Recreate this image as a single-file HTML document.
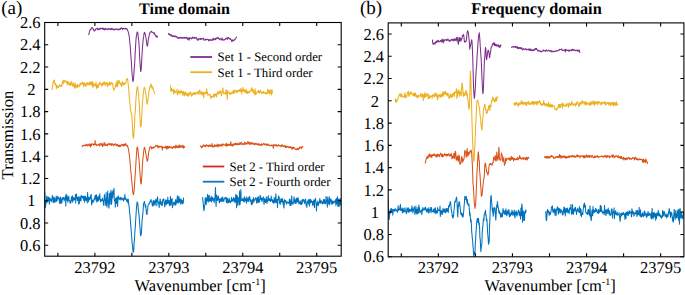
<!DOCTYPE html>
<html><head><meta charset="utf-8"><style>
html,body{margin:0;padding:0;background:#fff;width:685px;height:295px;overflow:hidden}
svg{display:block}
</style></head><body>
<svg width="685" height="295" viewBox="0 0 685 295">
<defs>
<clipPath id="cl"><rect x="44.7" y="22.4" width="296.3" height="233.8"/></clipPath>
<clipPath id="cr"><rect x="388.2" y="22.9" width="295.7" height="233.6"/></clipPath>
</defs>
<style>
text{font-family:"Liberation Serif",serif;fill:#000;text-rendering:geometricPrecision}
.t{font-size:16.5px}
.lg{font-size:12.8px}
.b{font-size:16px;font-weight:bold}
</style>
<rect width="685" height="295" fill="#fff"/>
<path d="M88.6,35.0 L88.9,33.9 L89.3,32.5 L89.6,31.3 L89.9,30.7 L90.2,29.7 L90.6,29.4 L90.9,29.6 L91.2,28.2 L91.6,27.7 L91.9,28.0 L92.2,27.8 L92.6,28.0 L92.9,28.0 L93.2,29.1 L93.5,30.3 L93.9,30.0 L94.2,31.0 L94.5,30.4 L94.9,30.5 L95.2,29.7 L95.5,29.9 L95.9,28.7 L96.2,29.0 L96.5,28.7 L96.8,28.7 L97.2,28.1 L97.5,29.5 L97.8,29.8 L98.2,29.9 L98.5,28.9 L98.8,29.2 L99.2,28.7 L99.5,28.6 L99.8,29.3 L100.1,28.2 L100.5,28.5 L100.8,29.1 L101.1,28.3 L101.5,28.5 L101.8,28.5 L102.1,28.6 L102.5,28.1 L102.8,28.8 L103.1,29.6 L103.4,28.2 L103.8,29.3 L104.1,29.0 L104.4,28.7 L104.8,30.0 L105.1,29.3 L105.4,28.3 L105.8,29.0 L106.1,29.2 L106.4,28.9 L106.7,29.3 L107.1,28.8 L107.4,29.3 L107.7,29.8 L108.1,28.7 L108.4,29.3 L108.7,28.9 L109.1,29.2 L109.4,28.6 L109.7,28.9 L110.0,29.1 L110.4,29.6 L110.7,29.6 L111.0,28.4 L111.4,28.7 L111.7,29.4 L112.0,28.2 L112.4,29.0 L112.7,29.2 L113.0,29.9 L113.3,29.5 L113.7,29.1 L114.0,29.1 L114.3,29.2 L114.7,30.1 L115.0,29.1 L115.3,29.1 L115.7,29.5 L116.0,29.2 L116.3,29.3 L116.6,28.8 L117.0,29.4 L117.3,29.1 L117.6,29.8 L118.0,29.6 L118.3,29.3 L118.6,29.6 L119.0,29.1 L119.3,29.8 L119.6,29.1 L119.9,29.3 L120.3,28.4 L120.6,29.2 L120.9,28.1 L121.3,27.8 L121.6,28.6 L121.9,28.2 L122.3,28.7 L122.6,29.7 L122.9,28.2 L123.2,28.2 L123.6,28.6 L123.9,28.8 L124.2,28.5 L124.6,28.4 L124.9,29.0 L125.2,28.9 L125.6,28.2 L125.9,28.8 L126.2,29.0 L126.5,28.6 L126.9,29.3 L127.2,29.0 L127.5,30.3 L127.9,30.8 L128.2,31.8 L128.5,32.8 L128.9,34.7 L129.2,36.4 L129.5,39.3 L129.8,42.5 L130.2,45.7 L130.5,50.8 L130.8,55.0 L131.2,59.9 L131.5,64.0 L131.8,69.5 L132.2,75.0 L132.5,78.2 L132.8,81.3 L133.1,81.4 L133.5,78.9 L133.8,75.2 L134.1,70.6 L134.5,65.6 L134.8,61.2 L135.1,54.5 L135.5,48.0 L135.8,42.3 L136.1,38.8 L136.4,35.9 L136.8,34.1 L137.1,32.2 L137.4,32.0 L137.8,32.8 L138.1,35.1 L138.4,38.2 L138.8,41.5 L139.1,45.7 L139.4,51.5 L139.7,58.0 L140.1,64.0 L140.4,68.9 L140.7,71.7 L141.1,70.1 L141.4,66.0 L141.7,60.4 L142.1,54.3 L142.4,48.2 L142.7,44.8 L143.0,41.4 L143.4,38.1 L143.7,36.4 L144.0,33.6 L144.4,32.5 L144.7,32.4 L145.0,33.5 L145.4,34.7 L145.7,36.4 L146.0,37.9 L146.3,40.1 L146.7,43.4 L147.0,45.3 L147.3,46.2 L147.7,45.0 L148.0,42.6 L148.3,39.9 L148.7,37.8 L149.0,36.1 L149.3,34.8 L149.6,33.2 L150.0,33.0 L150.3,32.2 L150.6,31.8 L151.0,31.5 L151.3,31.2 L151.6,32.1 L152.0,32.3 L152.3,32.0 L152.6,32.4 L152.9,32.8 L153.3,33.0 L153.6,33.3 L153.9,32.7 L154.3,34.0 L154.6,32.8 L154.9,34.5 L155.3,34.8 L155.6,35.6 L155.9,36.5 L156.2,36.8 L156.6,35.8 L156.9,35.8 L157.2,37.3 L157.6,36.6 L157.9,36.8" stroke="#7E2F8E" stroke-width="1.05" fill="none" stroke-linejoin="round" clip-path="url(#cl)"/>
<path d="M168.3,33.2 L168.6,34.1 L169.0,34.8 L169.3,33.9 L169.6,34.3 L170.0,35.1 L170.3,34.9 L170.6,34.5 L170.9,35.9 L171.3,34.8 L171.6,35.9 L171.9,35.5 L172.3,36.3 L172.6,35.9 L172.9,36.7 L173.3,35.7 L173.6,35.8 L173.9,36.3 L174.2,36.0 L174.6,36.7 L174.9,36.5 L175.2,35.9 L175.6,36.4 L175.9,36.2 L176.2,37.2 L176.6,36.4 L176.9,36.6 L177.2,37.4 L177.5,38.1 L177.9,38.3 L178.2,37.5 L178.5,37.7 L178.9,38.4 L179.2,37.7 L179.5,37.3 L179.9,37.9 L180.2,38.2 L180.5,37.6 L180.8,37.2 L181.2,37.3 L181.5,38.3 L181.8,37.6 L182.2,37.8 L182.5,38.0 L182.8,38.2 L183.2,37.7 L183.5,38.1 L183.8,37.4 L184.1,37.7 L184.5,37.3 L184.8,38.4 L185.1,37.8 L185.5,37.5 L185.8,37.8 L186.1,37.9 L186.5,38.4 L186.8,37.3 L187.1,37.6 L187.4,37.9 L187.8,39.5 L188.1,38.7 L188.4,38.1 L188.8,38.4 L189.1,40.3 L189.4,38.0 L189.8,37.8 L190.1,38.6 L190.4,38.3 L190.7,38.3 L191.1,37.8 L191.4,38.9 L191.7,38.7 L192.1,38.2 L192.4,38.2 L192.7,36.9 L193.1,38.2 L193.4,37.8 L193.7,38.1 L194.0,38.2 L194.4,37.7 L194.7,37.2 L195.0,38.2 L195.4,37.7 L195.7,38.1 L196.0,38.1 L196.4,38.4 L196.7,37.6 L197.0,39.6 L197.3,39.3 L197.7,39.8 L198.0,40.5 L198.3,39.5 L198.7,38.6 L199.0,39.1 L199.3,38.9 L199.7,39.2 L200.0,39.5 L200.3,38.4 L200.6,39.4 L201.0,38.4 L201.3,39.3 L201.6,39.0 L202.0,38.8 L202.3,38.9 L202.6,38.6 L203.0,38.6 L203.3,38.1 L203.6,39.0 L203.9,40.1 L204.3,40.1 L204.6,39.9 L204.9,39.6 L205.3,39.0 L205.6,40.2 L205.9,39.4 L206.3,39.4 L206.6,39.3 L206.9,39.5 L207.2,39.4 L207.6,39.6 L207.9,39.2 L208.2,39.6 L208.6,40.9 L208.9,39.9 L209.2,39.8 L209.6,40.2 L209.9,40.3 L210.2,39.4 L210.5,39.9 L210.9,40.4 L211.2,40.1 L211.5,39.9 L211.9,40.5 L212.2,39.4 L212.5,39.6 L212.9,38.8 L213.2,40.2 L213.5,38.4 L213.8,39.0 L214.2,38.9 L214.5,39.5 L214.8,39.4 L215.2,39.8 L215.5,38.2 L215.8,39.2 L216.2,38.5 L216.5,38.3 L216.8,38.7 L217.1,38.0 L217.5,37.4 L217.8,38.2 L218.1,37.6 L218.5,38.1 L218.8,38.8 L219.1,38.8 L219.5,39.7 L219.8,38.9 L220.1,38.4 L220.4,39.0 L220.8,39.0 L221.1,39.0 L221.4,39.9 L221.8,39.5 L222.1,37.8 L222.4,40.2 L222.8,39.7 L223.1,39.9 L223.4,39.6 L223.7,39.9 L224.1,39.5 L224.4,40.0 L224.7,39.5 L225.1,39.4 L225.4,39.2 L225.7,38.2 L226.1,38.7 L226.4,38.5 L226.7,38.6 L227.0,37.8 L227.4,39.3 L227.7,38.5 L228.0,37.7 L228.4,37.5 L228.7,38.3 L229.0,38.5 L229.4,38.3 L229.7,39.0 L230.0,38.7 L230.3,39.5 L230.7,38.9 L231.0,39.5 L231.3,40.2 L231.7,41.2 L232.0,41.6 L232.3,40.1 L232.7,39.9 L233.0,40.8 L233.3,40.0 L233.6,40.4 L234.0,40.6 L234.3,40.0 L234.6,39.7 L235.0,39.5 L235.3,38.3 L235.6,38.1 L236.0,37.9 L236.3,37.5 L236.6,36.6" stroke="#7E2F8E" stroke-width="1.05" fill="none" stroke-linejoin="round" clip-path="url(#cl)"/>
<path d="M52.1,90.0 L52.4,86.2 L52.8,85.7 L53.1,82.5 L53.4,81.3 L53.7,81.9 L54.1,80.0 L54.4,80.2 L54.7,82.8 L55.1,84.7 L55.4,83.6 L55.7,85.1 L56.1,84.9 L56.4,88.8 L56.7,85.0 L57.0,87.7 L57.4,86.1 L57.7,86.2 L58.0,87.1 L58.4,87.2 L58.7,87.5 L59.0,86.1 L59.4,84.7 L59.7,84.7 L60.0,85.8 L60.3,85.6 L60.7,86.4 L61.0,85.3 L61.3,85.9 L61.7,86.3 L62.0,84.7 L62.3,82.1 L62.7,81.8 L63.0,80.8 L63.3,83.7 L63.6,80.0 L64.0,82.0 L64.3,80.7 L64.6,82.0 L65.0,81.3 L65.3,80.6 L65.6,80.8 L66.0,81.5 L66.3,82.2 L66.6,81.8 L66.9,82.7 L67.3,85.0 L67.6,81.2 L67.9,83.5 L68.3,82.1 L68.6,83.7 L68.9,84.6 L69.3,83.7 L69.6,85.0 L69.9,82.3 L70.2,85.6 L70.6,83.5 L70.9,85.0 L71.2,84.5 L71.6,81.3 L71.9,83.5 L72.2,84.7 L72.6,86.2 L72.9,84.9 L73.2,84.8 L73.5,82.7 L73.9,86.2 L74.2,86.6 L74.5,88.1 L74.9,84.6 L75.2,83.0 L75.5,85.9 L75.9,88.2 L76.2,86.0 L76.5,86.8 L76.8,86.3 L77.2,84.6 L77.5,87.4 L77.8,84.4 L78.2,85.7 L78.5,86.2 L78.8,86.9 L79.2,86.3 L79.5,86.1 L79.8,84.3 L80.1,83.6 L80.5,85.0 L80.8,83.9 L81.1,83.1 L81.5,83.2 L81.8,84.1 L82.1,82.3 L82.5,82.7 L82.8,82.6 L83.1,84.6 L83.4,84.8 L83.8,86.7 L84.1,82.4 L84.4,83.4 L84.8,85.3 L85.1,84.0 L85.4,84.1 L85.8,86.6 L86.1,84.1 L86.4,83.3 L86.7,83.0 L87.1,84.9 L87.4,84.8 L87.7,82.6 L88.1,83.2 L88.4,83.1 L88.7,84.8 L89.1,83.1 L89.4,84.7 L89.7,84.6 L90.0,81.9 L90.4,83.8 L90.7,84.6 L91.0,82.6 L91.4,81.5 L91.7,83.7 L92.0,85.3 L92.4,86.3 L92.7,81.8 L93.0,87.6 L93.3,83.1 L93.7,85.8 L94.0,84.1 L94.3,86.0 L94.7,85.0 L95.0,85.4 L95.3,85.4 L95.7,84.0 L96.0,82.0 L96.3,88.6 L96.6,86.0 L97.0,87.7 L97.3,84.4 L97.6,87.3 L98.0,87.6 L98.3,87.5 L98.6,85.4 L99.0,83.8 L99.3,84.8 L99.6,82.3 L99.9,82.5 L100.3,84.5 L100.6,83.2 L100.9,84.0 L101.3,83.7 L101.6,86.1 L101.9,85.5 L102.3,83.8 L102.6,85.2 L102.9,82.7 L103.2,83.2 L103.6,84.6 L103.9,82.1 L104.2,83.3 L104.6,82.1 L104.9,83.8 L105.2,85.7 L105.6,82.8 L105.9,84.1 L106.2,83.0 L106.5,82.6 L106.9,82.4 L107.2,85.8 L107.5,86.7 L107.9,84.6 L108.2,83.2 L108.5,85.0 L108.9,83.6 L109.2,84.8 L109.5,82.0 L109.8,84.6 L110.2,85.2 L110.5,83.8 L110.8,83.9 L111.2,82.0 L111.5,83.5 L111.8,82.7 L112.2,84.1 L112.5,83.3 L112.8,84.6 L113.1,87.7 L113.5,89.4 L113.8,90.4 L114.1,88.9 L114.5,89.0 L114.8,88.4 L115.1,87.0 L115.5,84.9 L115.8,86.7 L116.1,83.0 L116.4,86.3 L116.8,83.2 L117.1,80.4 L117.4,86.8 L117.8,85.3 L118.1,81.9 L118.4,83.4 L118.8,80.3 L119.1,83.1 L119.4,81.1 L119.7,82.3 L120.1,83.7 L120.4,83.7 L120.7,84.8 L121.1,83.5 L121.4,86.4 L121.7,82.7 L122.1,84.0 L122.4,81.7 L122.7,82.5 L123.0,85.8 L123.4,83.0 L123.7,84.8 L124.0,84.2 L124.4,83.0 L124.7,84.0 L125.0,83.6 L125.4,83.0 L125.7,83.6 L126.0,82.4 L126.3,80.1 L126.7,78.9 L127.0,79.4 L127.3,78.6 L127.7,79.4 L128.0,82.6 L128.3,85.0 L128.7,88.7 L129.0,93.1 L129.3,97.2 L129.6,101.0 L130.0,104.5 L130.3,107.6 L130.6,110.1 L131.0,112.5 L131.3,113.4 L131.6,114.9 L132.0,117.2 L132.3,123.5 L132.6,129.2 L132.9,135.4 L133.3,138.3 L133.6,138.1 L133.9,133.4 L134.3,128.0 L134.6,122.5 L134.9,115.5 L135.3,110.9 L135.6,105.4 L135.9,99.7 L136.2,95.7 L136.6,92.2 L136.9,88.1 L137.2,87.0 L137.6,86.9 L137.9,88.8 L138.2,91.6 L138.6,95.2 L138.9,98.8 L139.2,102.9 L139.5,108.0 L139.9,116.2 L140.2,122.0 L140.5,126.1 L140.9,126.9 L141.2,124.6 L141.5,120.2 L141.9,114.0 L142.2,106.8 L142.5,102.6 L142.8,99.8 L143.2,94.4 L143.5,92.3 L143.8,89.3 L144.2,87.4 L144.5,87.7 L144.8,87.7 L145.2,90.2 L145.5,93.1 L145.8,93.5 L146.1,96.8 L146.5,99.8 L146.8,102.1 L147.1,104.3 L147.5,102.7 L147.8,101.7 L148.1,98.1 L148.5,96.4 L148.8,93.4 L149.1,89.8 L149.4,89.8 L149.8,87.1 L150.1,86.3 L150.4,87.0 L150.8,84.1 L151.1,84.1 L151.4,86.9 L151.8,86.0 L152.1,88.6 L152.4,87.7 L152.7,87.0 L153.1,88.4 L153.4,90.7 L153.7,91.1 L154.1,91.2 L154.4,92.4 L154.7,93.4 L155.1,94.0" stroke="#EDB120" stroke-width="1.05" fill="none" stroke-linejoin="round" clip-path="url(#cl)"/>
<path d="M170.4,85.4 L170.7,88.6 L171.1,91.8 L171.4,88.0 L171.7,91.0 L172.1,90.6 L172.4,89.6 L172.7,90.9 L173.0,90.8 L173.4,90.7 L173.7,94.1 L174.0,89.1 L174.4,92.1 L174.7,92.1 L175.0,91.0 L175.4,91.9 L175.7,92.7 L176.0,91.7 L176.3,92.0 L176.7,92.4 L177.0,89.2 L177.3,93.7 L177.7,94.8 L178.0,93.3 L178.3,93.4 L178.7,90.4 L179.0,92.3 L179.3,91.4 L179.6,91.9 L180.0,94.0 L180.3,91.6 L180.6,92.4 L181.0,90.1 L181.3,92.3 L181.6,92.8 L182.0,91.8 L182.3,91.8 L182.6,95.2 L182.9,91.3 L183.3,91.4 L183.6,92.1 L183.9,94.7 L184.3,95.9 L184.6,93.6 L184.9,92.2 L185.3,92.7 L185.6,94.5 L185.9,92.1 L186.2,95.5 L186.6,95.3 L186.9,93.8 L187.2,94.6 L187.6,94.9 L187.9,96.1 L188.2,92.9 L188.6,96.1 L188.9,94.0 L189.2,93.2 L189.5,94.5 L189.9,94.0 L190.2,92.2 L190.5,91.7 L190.9,92.6 L191.2,95.8 L191.5,96.3 L191.9,94.6 L192.2,95.7 L192.5,93.3 L192.8,94.0 L193.2,94.4 L193.5,92.9 L193.8,93.0 L194.2,94.3 L194.5,93.4 L194.8,92.4 L195.2,94.0 L195.5,93.0 L195.8,94.6 L196.1,93.2 L196.5,92.6 L196.8,92.9 L197.1,92.6 L197.5,91.9 L197.8,92.2 L198.1,93.8 L198.5,93.8 L198.8,94.4 L199.1,90.5 L199.4,92.4 L199.8,89.9 L200.1,93.1 L200.4,92.3 L200.8,92.3 L201.1,94.1 L201.4,93.3 L201.8,91.6 L202.1,95.0 L202.4,94.6 L202.7,92.6 L203.1,94.4 L203.4,92.5 L203.7,97.9 L204.1,92.9 L204.4,92.1 L204.7,92.8 L205.1,92.2 L205.4,93.6 L205.7,93.3 L206.0,93.3 L206.4,92.7 L206.7,88.7 L207.0,93.9 L207.4,92.1 L207.7,93.9 L208.0,95.3 L208.4,94.4 L208.7,94.2 L209.0,94.8 L209.3,95.0 L209.7,94.8 L210.0,94.8 L210.3,94.6 L210.7,98.0 L211.0,96.5 L211.3,97.9 L211.7,96.1 L212.0,96.6 L212.3,96.3 L212.6,96.9 L213.0,97.1 L213.3,96.1 L213.6,94.5 L214.0,94.2 L214.3,97.1 L214.6,94.3 L215.0,93.9 L215.3,95.9 L215.6,95.4 L215.9,94.7 L216.3,93.6 L216.6,97.0 L216.9,94.3 L217.3,94.4 L217.6,93.4 L217.9,91.6 L218.3,91.7 L218.6,94.0 L218.9,93.8 L219.2,92.8 L219.6,91.6 L219.9,91.1 L220.2,92.5 L220.6,90.7 L220.9,93.9 L221.2,94.0 L221.6,95.8 L221.9,93.4 L222.2,91.4 L222.5,91.0 L222.9,87.9 L223.2,91.6 L223.5,92.5 L223.9,93.8 L224.2,93.4 L224.5,93.4 L224.9,92.8 L225.2,93.3 L225.5,94.2 L225.8,90.6 L226.2,91.2 L226.5,89.8 L226.8,93.7 L227.2,99.4 L227.5,93.0 L227.8,90.7 L228.2,92.7 L228.5,92.3 L228.8,92.8 L229.1,92.5 L229.5,93.9 L229.8,93.0 L230.1,94.6 L230.5,93.7 L230.8,92.9 L231.1,92.8 L231.5,92.3 L231.8,93.9 L232.1,92.7 L232.4,93.0 L232.8,92.0 L233.1,90.5 L233.4,93.7 L233.8,90.9 L234.1,93.2 L234.4,92.9 L234.8,89.9 L235.1,90.9 L235.4,91.4 L235.7,91.0 L236.1,90.4 L236.4,92.8 L236.7,91.4 L237.1,92.0 L237.4,90.8 L237.7,91.9 L238.1,90.0 L238.4,91.1 L238.7,91.5 L239.0,90.9 L239.4,90.1 L239.7,89.5 L240.0,91.0 L240.4,91.4 L240.7,90.6 L241.0,88.3 L241.4,91.5 L241.7,93.9 L242.0,89.8 L242.3,91.0 L242.7,91.0 L243.0,87.3 L243.3,90.5 L243.7,89.6 L244.0,92.3 L244.3,90.3 L244.7,90.0 L245.0,90.9 L245.3,91.4 L245.6,90.4 L246.0,93.2 L246.3,89.3 L246.6,90.6 L247.0,91.9 L247.3,93.6 L247.6,91.9 L248.0,91.3 L248.3,92.6 L248.6,92.4 L248.9,93.1 L249.3,92.5 L249.6,90.9 L249.9,91.4 L250.3,91.2 L250.6,91.2 L250.9,91.0 L251.3,89.7 L251.6,87.6 L251.9,90.2 L252.2,88.6 L252.6,91.5 L252.9,91.4 L253.2,89.3 L253.6,92.8 L253.9,93.1 L254.2,92.3 L254.6,91.2 L254.9,95.1 L255.2,88.7 L255.5,94.2 L255.9,93.5 L256.2,93.5 L256.5,93.9 L256.9,91.9 L257.2,91.9 L257.5,91.4 L257.9,91.5 L258.2,92.4 L258.5,90.3 L258.8,90.9 L259.2,93.1 L259.5,92.4 L259.8,92.8 L260.2,90.0 L260.5,91.5 L260.8,91.8 L261.2,92.5 L261.5,91.9 L261.8,93.7 L262.1,92.2 L262.5,92.1 L262.8,92.3 L263.1,93.0 L263.5,91.4 L263.8,93.3 L264.1,92.7 L264.5,92.4 L264.8,92.2 L265.1,93.0 L265.4,93.9 L265.8,93.6 L266.1,92.8 L266.4,93.6 L266.8,92.7 L267.1,93.9 L267.4,91.9 L267.8,89.1 L268.1,93.5 L268.4,91.7 L268.7,90.2 L269.1,91.5 L269.4,90.5 L269.7,94.2 L270.1,92.1 L270.4,89.7 L270.7,92.6 L271.1,91.8 L271.4,94.9 L271.7,91.0 L272.0,89.4 L272.4,93.0 L272.7,93.3" stroke="#EDB120" stroke-width="1.05" fill="none" stroke-linejoin="round" clip-path="url(#cl)"/>
<path d="M81.9,147.3 L82.2,146.8 L82.6,145.8 L82.9,146.2 L83.2,145.3 L83.5,145.5 L83.9,145.3 L84.2,145.1 L84.5,145.6 L84.9,145.9 L85.2,145.3 L85.5,145.6 L85.9,144.9 L86.2,144.1 L86.5,144.4 L86.8,145.6 L87.2,145.3 L87.5,145.9 L87.8,144.7 L88.2,145.1 L88.5,145.4 L88.8,145.2 L89.2,144.0 L89.5,144.3 L89.8,145.9 L90.1,143.7 L90.5,146.9 L90.8,145.3 L91.1,144.2 L91.5,145.7 L91.8,144.0 L92.1,144.1 L92.5,144.0 L92.8,143.7 L93.1,144.5 L93.4,144.2 L93.8,145.4 L94.1,144.7 L94.4,144.8 L94.8,144.4 L95.1,140.6 L95.4,144.5 L95.8,144.0 L96.1,145.2 L96.4,144.4 L96.7,145.7 L97.1,145.2 L97.4,145.2 L97.7,144.8 L98.1,144.6 L98.4,144.9 L98.7,145.1 L99.1,143.8 L99.4,144.7 L99.7,146.2 L100.0,144.1 L100.4,144.0 L100.7,143.7 L101.0,143.4 L101.4,145.1 L101.7,144.3 L102.0,144.8 L102.4,145.8 L102.7,146.7 L103.0,142.9 L103.3,145.3 L103.7,145.0 L104.0,144.9 L104.3,145.0 L104.7,142.5 L105.0,145.7 L105.3,145.1 L105.7,144.8 L106.0,145.4 L106.3,145.1 L106.6,144.9 L107.0,143.9 L107.3,145.9 L107.6,145.0 L108.0,144.4 L108.3,143.8 L108.6,144.3 L109.0,143.8 L109.3,144.8 L109.6,144.8 L109.9,143.2 L110.3,144.6 L110.6,144.9 L110.9,144.3 L111.3,143.9 L111.6,145.5 L111.9,144.1 L112.3,143.7 L112.6,143.9 L112.9,144.6 L113.2,145.4 L113.6,145.7 L113.9,145.0 L114.2,144.1 L114.6,144.4 L114.9,144.3 L115.2,144.8 L115.6,143.8 L115.9,145.1 L116.2,145.6 L116.5,145.2 L116.9,145.6 L117.2,144.6 L117.5,144.3 L117.9,145.1 L118.2,146.4 L118.5,146.3 L118.9,145.3 L119.2,146.4 L119.5,145.3 L119.8,146.6 L120.2,146.0 L120.5,145.4 L120.8,146.2 L121.2,145.0 L121.5,144.8 L121.8,144.3 L122.2,145.4 L122.5,145.1 L122.8,144.9 L123.1,144.5 L123.5,145.9 L123.8,144.4 L124.1,144.1 L124.5,145.5 L124.8,145.6 L125.1,144.9 L125.5,143.5 L125.8,144.4 L126.1,145.2 L126.4,145.1 L126.8,146.1 L127.1,145.1 L127.4,146.4 L127.8,146.3 L128.1,147.9 L128.4,149.0 L128.8,151.4 L129.1,153.3 L129.4,155.6 L129.7,158.7 L130.1,162.4 L130.4,166.1 L130.7,170.4 L131.1,174.0 L131.4,177.0 L131.7,180.3 L132.1,184.3 L132.4,187.8 L132.7,191.4 L133.0,193.4 L133.4,194.7 L133.7,194.1 L134.0,191.1 L134.4,187.2 L134.7,181.9 L135.0,176.9 L135.4,171.8 L135.7,167.1 L136.0,161.8 L136.3,156.8 L136.7,151.2 L137.0,147.9 L137.3,147.0 L137.7,147.9 L138.0,150.2 L138.3,153.5 L138.7,157.1 L139.0,159.5 L139.3,163.6 L139.6,168.3 L140.0,173.3 L140.3,177.9 L140.6,181.6 L141.0,184.0 L141.3,183.1 L141.6,179.4 L142.0,173.8 L142.3,167.6 L142.6,162.2 L142.9,158.8 L143.3,155.3 L143.6,152.1 L143.9,149.5 L144.3,147.6 L144.6,147.4 L144.9,148.3 L145.3,150.3 L145.6,152.1 L145.9,153.8 L146.2,155.9 L146.6,158.1 L146.9,159.3 L147.2,161.3 L147.6,160.7 L147.9,159.5 L148.2,156.6 L148.6,152.8 L148.9,151.4 L149.2,150.4 L149.5,147.7 L149.9,146.9 L150.2,146.9 L150.5,146.5 L150.9,147.1 L151.2,147.6 L151.5,148.9 L151.9,147.1 L152.2,147.6 L152.5,148.1 L152.8,147.6 L153.2,148.2 L153.5,147.5 L153.8,147.1 L154.2,147.3 L154.5,147.6 L154.8,147.1 L155.2,146.5 L155.5,146.2 L155.8,145.2 L156.1,145.9 L156.5,146.2 L156.8,145.8 L157.1,146.2 L157.5,145.5 L157.8,147.3 L158.1,147.8 L158.5,146.1 L158.8,146.5 L159.1,146.1 L159.4,147.3 L159.8,146.7 L160.1,146.7 L160.4,146.5 L160.8,146.9 L161.1,146.1 L161.4,147.3 L161.8,146.4 L162.1,147.3 L162.4,150.0 L162.7,147.6 L163.1,146.9 L163.4,147.7 L163.7,147.4 L164.1,147.7 L164.4,147.1 L164.7,147.5 L165.1,147.4 L165.4,148.0 L165.7,146.0 L166.0,147.7 L166.4,146.5 L166.7,149.3 L167.0,146.2 L167.4,146.8 L167.7,146.4 L168.0,148.8 L168.4,146.8 L168.7,147.7 L169.0,147.2 L169.3,146.2 L169.7,147.1 L170.0,147.7 L170.3,147.2 L170.7,147.8 L171.0,147.0 L171.3,147.1 L171.7,146.9 L172.0,147.4 L172.3,148.5 L172.6,147.4 L173.0,147.4 L173.3,146.6 L173.6,146.5 L174.0,148.0 L174.3,146.2 L174.6,146.4 L175.0,146.8 L175.3,146.6 L175.6,148.2 L175.9,145.1 L176.3,147.3 L176.6,147.4 L176.9,146.0 L177.3,146.5 L177.6,147.0 L177.9,147.8 L178.3,146.0 L178.6,145.5 L178.9,147.3 L179.2,147.6 L179.6,146.3 L179.9,144.9 L180.2,147.2 L180.6,146.1 L180.9,147.1 L181.2,146.2 L181.6,146.1 L181.9,145.9 L182.2,147.3 L182.5,147.4 L182.9,145.1 L183.2,146.1 L183.5,148.1 L183.9,146.7 L184.2,146.2 L184.5,147.2 L184.9,147.4 L185.2,147.4" stroke="#D95319" stroke-width="1.05" fill="none" stroke-linejoin="round" clip-path="url(#cl)"/>
<path d="M200.4,145.5 L200.7,146.7 L201.1,146.6 L201.4,146.7 L201.7,147.9 L202.1,146.5 L202.4,146.2 L202.7,147.1 L203.0,145.1 L203.4,145.1 L203.7,145.6 L204.0,145.2 L204.4,146.1 L204.7,145.3 L205.0,146.8 L205.4,146.5 L205.7,145.9 L206.0,145.0 L206.3,145.8 L206.7,146.0 L207.0,144.8 L207.3,145.7 L207.7,145.9 L208.0,145.6 L208.3,146.7 L208.7,146.5 L209.0,145.1 L209.3,145.7 L209.6,145.1 L210.0,146.0 L210.3,145.0 L210.6,146.4 L211.0,146.0 L211.3,146.4 L211.6,145.7 L212.0,143.5 L212.3,146.9 L212.6,145.5 L212.9,146.6 L213.3,146.0 L213.6,146.1 L213.9,147.0 L214.3,145.9 L214.6,146.6 L214.9,144.6 L215.3,146.2 L215.6,145.6 L215.9,145.6 L216.2,145.6 L216.6,145.7 L216.9,146.6 L217.2,144.0 L217.6,145.3 L217.9,144.7 L218.2,147.0 L218.6,144.7 L218.9,145.3 L219.2,144.7 L219.5,145.4 L219.9,146.3 L220.2,145.1 L220.5,145.4 L220.9,144.3 L221.2,145.5 L221.5,145.8 L221.9,144.9 L222.2,146.2 L222.5,143.9 L222.8,143.9 L223.2,144.1 L223.5,144.6 L223.8,145.1 L224.2,144.9 L224.5,144.9 L224.8,145.3 L225.2,144.5 L225.5,143.9 L225.8,143.9 L226.1,146.3 L226.5,143.3 L226.8,144.7 L227.1,146.0 L227.5,145.2 L227.8,144.3 L228.1,144.9 L228.5,145.3 L228.8,145.5 L229.1,143.9 L229.4,145.1 L229.8,144.8 L230.1,145.1 L230.4,145.4 L230.8,141.8 L231.1,143.5 L231.4,145.0 L231.8,145.9 L232.1,145.0 L232.4,144.6 L232.7,146.1 L233.1,143.8 L233.4,145.1 L233.7,143.9 L234.1,144.3 L234.4,144.1 L234.7,145.0 L235.1,143.5 L235.4,143.9 L235.7,143.1 L236.0,144.6 L236.4,143.9 L236.7,144.5 L237.0,143.3 L237.4,143.9 L237.7,144.9 L238.0,144.1 L238.4,144.5 L238.7,144.4 L239.0,143.6 L239.3,142.8 L239.7,144.6 L240.0,144.2 L240.3,144.5 L240.7,142.5 L241.0,142.7 L241.3,142.2 L241.7,143.1 L242.0,144.6 L242.3,144.2 L242.6,143.8 L243.0,144.0 L243.3,144.6 L243.6,143.7 L244.0,144.1 L244.3,143.8 L244.6,142.1 L245.0,143.4 L245.3,144.6 L245.6,143.3 L245.9,143.4 L246.3,142.9 L246.6,143.1 L246.9,144.2 L247.3,143.4 L247.6,142.9 L247.9,141.4 L248.3,143.3 L248.6,142.3 L248.9,142.5 L249.2,144.3 L249.6,144.2 L249.9,142.3 L250.2,144.2 L250.6,144.0 L250.9,143.1 L251.2,144.0 L251.6,142.5 L251.9,142.8 L252.2,142.8 L252.5,143.1 L252.9,144.5 L253.2,143.0 L253.5,143.2 L253.9,143.4 L254.2,144.4 L254.5,144.1 L254.9,144.9 L255.2,143.7 L255.5,143.4 L255.8,143.8 L256.2,144.2 L256.5,143.6 L256.8,144.4 L257.2,143.8 L257.5,143.8 L257.8,144.2 L258.2,145.3 L258.5,143.8 L258.8,143.8 L259.1,143.7 L259.5,144.8 L259.8,145.0 L260.1,144.5 L260.5,144.8 L260.8,145.6 L261.1,145.2 L261.5,143.7 L261.8,144.7 L262.1,144.7 L262.4,145.2 L262.8,144.3 L263.1,144.0 L263.4,144.0 L263.8,143.2 L264.1,144.5 L264.4,144.1 L264.8,144.9 L265.1,143.9 L265.4,144.3 L265.7,144.1 L266.1,144.0 L266.4,145.4 L266.7,144.5 L267.1,145.3 L267.4,144.3 L267.7,145.2 L268.1,143.9 L268.4,144.8 L268.7,144.8 L269.0,145.7 L269.4,145.4 L269.7,145.1 L270.0,145.8 L270.4,145.4 L270.7,145.6 L271.0,145.9 L271.4,145.2 L271.7,145.0 L272.0,145.6 L272.3,145.1 L272.7,145.6 L273.0,146.1 L273.3,148.5 L273.7,145.0 L274.0,144.3 L274.3,145.3 L274.7,145.2 L275.0,145.9 L275.3,144.9 L275.6,145.1 L276.0,145.6 L276.3,144.7 L276.6,145.0 L277.0,146.3 L277.3,146.3 L277.6,145.8 L278.0,145.5 L278.3,144.6 L278.6,145.7 L278.9,145.5 L279.3,145.8 L279.6,145.2 L279.9,145.7 L280.3,145.5 L280.6,146.0 L280.9,146.8 L281.3,146.3 L281.6,144.9 L281.9,145.3 L282.2,144.9 L282.6,145.5 L282.9,146.4 L283.2,146.5 L283.6,146.0 L283.9,146.8 L284.2,146.1 L284.6,145.5 L284.9,145.7 L285.2,146.0 L285.5,147.6 L285.9,145.8 L286.2,147.5 L286.5,147.5 L286.9,146.5 L287.2,146.6 L287.5,146.3 L287.9,146.6 L288.2,147.2 L288.5,146.8 L288.8,147.6 L289.2,147.9 L289.5,147.3 L289.8,146.6 L290.2,147.2 L290.5,147.5 L290.8,146.7 L291.2,148.0 L291.5,148.0 L291.8,147.3 L292.1,149.4 L292.5,147.4 L292.8,147.7 L293.1,148.5 L293.5,147.1 L293.8,148.0 L294.1,147.5 L294.5,147.9 L294.8,148.6 L295.1,149.0 L295.4,149.6 L295.8,149.4 L296.1,149.7 L296.4,149.3 L296.8,148.7 L297.1,149.7 L297.4,148.6 L297.8,148.4 L298.1,149.8 L298.4,149.1 L298.7,148.5 L299.1,148.2 L299.4,148.8 L299.7,147.0 L300.1,147.8 L300.4,147.1 L300.7,147.8 L301.1,147.2 L301.4,148.6 L301.7,147.8 L302.0,146.9 L302.4,147.3 L302.7,146.4 L303.0,147.3" stroke="#D95319" stroke-width="1.05" fill="none" stroke-linejoin="round" clip-path="url(#cl)"/>
<path d="M44.7,191.8 L45.0,199.5 L45.4,207.8 L45.7,204.5 L46.0,203.0 L46.3,201.5 L46.7,196.1 L47.0,202.7 L47.3,200.3 L47.7,201.5 L48.0,196.8 L48.3,201.0 L48.7,199.6 L49.0,197.4 L49.3,204.3 L49.6,200.0 L50.0,198.1 L50.3,198.9 L50.6,200.4 L51.0,200.9 L51.3,199.1 L51.6,201.2 L52.0,202.0 L52.3,195.3 L52.6,197.9 L52.9,196.7 L53.3,199.2 L53.6,202.6 L53.9,201.1 L54.3,197.4 L54.6,199.5 L54.9,202.5 L55.3,199.1 L55.6,199.9 L55.9,200.9 L56.2,196.0 L56.6,201.4 L56.9,200.1 L57.2,200.7 L57.6,196.3 L57.9,196.9 L58.2,197.1 L58.6,199.0 L58.9,198.9 L59.2,198.6 L59.5,203.3 L59.9,202.4 L60.2,196.9 L60.5,197.4 L60.9,203.6 L61.2,199.0 L61.5,203.0 L61.9,202.7 L62.2,197.9 L62.5,198.6 L62.8,199.2 L63.2,197.2 L63.5,197.6 L63.8,198.5 L64.2,201.0 L64.5,197.9 L64.8,198.9 L65.2,198.3 L65.5,196.0 L65.8,206.0 L66.1,194.0 L66.5,197.1 L66.8,200.0 L67.1,195.6 L67.5,200.3 L67.8,202.2 L68.1,197.3 L68.5,199.7 L68.8,196.4 L69.1,200.7 L69.4,200.3 L69.8,200.6 L70.1,203.4 L70.4,201.3 L70.8,202.8 L71.1,201.0 L71.4,196.9 L71.8,200.5 L72.1,200.6 L72.4,195.7 L72.7,202.2 L73.1,199.1 L73.4,200.2 L73.7,197.4 L74.1,199.8 L74.4,199.9 L74.7,198.1 L75.1,199.4 L75.4,194.5 L75.7,203.0 L76.0,196.9 L76.4,193.9 L76.7,196.9 L77.0,197.2 L77.4,200.6 L77.7,197.4 L78.0,200.0 L78.4,196.8 L78.7,204.1 L79.0,200.2 L79.3,203.6 L79.7,196.7 L80.0,200.6 L80.3,196.8 L80.7,200.1 L81.0,201.0 L81.3,195.3 L81.7,197.1 L82.0,196.7 L82.3,196.3 L82.6,198.1 L83.0,197.0 L83.3,196.3 L83.6,199.7 L84.0,200.5 L84.3,196.0 L84.6,202.2 L85.0,198.7 L85.3,197.9 L85.6,196.4 L85.9,200.3 L86.3,200.5 L86.6,199.8 L86.9,197.5 L87.3,203.0 L87.6,192.5 L87.9,197.6 L88.3,198.6 L88.6,201.8 L88.9,197.2 L89.2,199.8 L89.6,199.4 L89.9,197.9 L90.2,199.0 L90.6,195.3 L90.9,198.1 L91.2,194.6 L91.6,205.0 L91.9,203.3 L92.2,202.5 L92.5,199.9 L92.9,201.4 L93.2,202.1 L93.5,201.8 L93.9,200.8 L94.2,198.2 L94.5,199.4 L94.9,196.9 L95.2,195.5 L95.5,195.3 L95.8,199.1 L96.2,200.7 L96.5,194.7 L96.8,202.1 L97.2,201.6 L97.5,196.9 L97.8,196.9 L98.2,197.8 L98.5,200.9 L98.8,197.6 L99.1,195.5 L99.5,199.3 L99.8,193.8 L100.1,199.1 L100.5,201.6 L100.8,199.4 L101.1,200.8 L101.5,200.3 L101.8,201.1 L102.1,200.2 L102.4,198.0 L102.8,199.7 L103.1,199.9 L103.4,203.6 L103.8,205.5 L104.1,201.8 L104.4,194.6 L104.8,200.1 L105.1,199.8 L105.4,200.4 L105.7,205.4 L106.1,192.6 L106.4,205.3 L106.7,198.0 L107.1,207.1 L107.4,197.6 L107.7,191.0 L108.1,202.6 L108.4,199.9 L108.7,206.0 L109.0,208.3 L109.4,193.3 L109.7,204.3 L110.0,203.2 L110.4,195.4 L110.7,191.9 L111.0,190.3 L111.4,204.4 L111.7,203.2 L112.0,194.3 L112.3,192.1 L112.7,198.0 L113.0,190.4 L113.3,194.5 L113.7,194.8 L114.0,188.3 L114.3,199.7 L114.7,201.3 L115.0,200.1 L115.3,207.3 L115.6,198.3 L116.0,199.4 L116.3,203.7 L116.6,198.7 L117.0,197.1 L117.3,199.3 L117.6,206.4 L118.0,198.9 L118.3,195.8 L118.6,197.8 L118.9,198.8 L119.3,198.7 L119.6,199.4 L119.9,197.7 L120.3,199.9 L120.6,198.4 L120.9,197.2 L121.3,198.0 L121.6,198.7 L121.9,200.0 L122.2,199.6 L122.6,198.4 L122.9,198.8 L123.2,199.1 L123.6,201.1 L123.9,197.8 L124.2,199.1 L124.6,199.3 L124.9,194.3 L125.2,198.7 L125.5,199.2 L125.9,198.3 L126.2,199.8 L126.5,201.0 L126.9,201.4 L127.2,199.5 L127.5,200.1 L127.9,202.9 L128.2,198.9 L128.5,201.7 L128.8,204.7 L129.2,207.1 L129.5,210.8 L129.8,213.6 L130.2,217.4 L130.5,222.1 L130.8,225.9 L131.2,230.9 L131.5,234.8 L131.8,238.4 L132.1,242.5 L132.5,245.4 L132.8,249.7 L133.1,252.2 L133.5,252.0 L133.8,249.1 L134.1,243.0 L134.5,239.6 L134.8,232.7 L135.1,228.9 L135.4,225.5 L135.8,218.0 L136.1,214.1 L136.4,208.9 L136.8,204.7 L137.1,201.9 L137.4,202.5 L137.8,203.3 L138.1,206.9 L138.4,210.3 L138.7,211.9 L139.1,215.6 L139.4,219.8 L139.7,224.2 L140.1,228.9 L140.4,233.7 L140.7,235.9 L141.1,234.7 L141.4,232.6 L141.7,228.6 L142.0,222.0 L142.4,217.2 L142.7,215.2 L143.0,211.5 L143.4,205.9 L143.7,203.1 L144.0,202.7 L144.4,201.4 L144.7,203.1 L145.0,204.6 L145.3,207.3 L145.7,205.1 L146.0,208.8 L146.3,211.6 L146.7,214.5 L147.0,214.4 L147.3,210.4 L147.7,209.3 L148.0,205.6 L148.3,204.7 L148.6,203.7 L149.0,203.8 L149.3,203.9 L149.6,202.3 L150.0,202.3 L150.3,201.2 L150.6,200.6 L151.0,199.5 L151.3,202.0 L151.6,201.5 L151.9,202.3 L152.3,206.0 L152.6,204.8 L152.9,206.0 L153.3,200.2 L153.6,204.9 L153.9,202.0 L154.3,200.9 L154.6,200.9 L154.9,205.5 L155.2,204.1 L155.6,200.1 L155.9,199.3 L156.2,201.9 L156.6,200.8 L156.9,205.9 L157.2,198.4 L157.6,196.8 L157.9,200.8 L158.2,201.9 L158.5,202.5 L158.9,204.4 L159.2,207.7 L159.5,202.0 L159.9,201.5 L160.2,198.9 L160.5,203.4 L160.9,204.7 L161.2,201.9 L161.5,205.3 L161.8,202.3 L162.2,205.7 L162.5,202.6 L162.8,199.5 L163.2,200.4 L163.5,198.9 L163.8,198.9 L164.2,203.2 L164.5,204.5 L164.8,206.9 L165.1,202.1 L165.5,201.7 L165.8,199.7 L166.1,204.9 L166.5,203.3 L166.8,200.2 L167.1,203.4 L167.5,202.8 L167.8,197.2 L168.1,203.4 L168.4,202.1 L168.8,200.7 L169.1,200.5 L169.4,205.4 L169.8,204.7 L170.1,205.8 L170.4,196.4 L170.8,200.2 L171.1,204.6 L171.4,199.5 L171.7,200.9 L172.1,198.5 L172.4,207.7 L172.7,206.3 L173.1,204.5 L173.4,203.9 L173.7,202.3 L174.1,202.2 L174.4,204.2 L174.7,203.0 L175.0,205.4 L175.4,201.0 L175.7,199.5 L176.0,204.8 L176.4,201.3 L176.7,202.8 L177.0,200.1 L177.4,195.8 L177.7,202.5 L178.0,197.6 L178.3,203.3 L178.7,197.3 L179.0,196.4 L179.3,201.8 L179.7,202.1 L180.0,200.4 L180.3,199.2 L180.7,204.1 L181.0,198.7 L181.3,201.2 L181.6,200.4 L182.0,203.0 L182.3,204.0 L182.6,200.5 L183.0,202.9 L183.3,203.1 L183.6,197.6" stroke="#0072BD" stroke-width="1.05" fill="none" stroke-linejoin="round" clip-path="url(#cl)"/>
<path d="M202.6,197.1 L202.9,201.2 L203.3,203.4 L203.6,208.5 L203.9,210.8 L204.3,208.3 L204.6,205.3 L204.9,205.0 L205.2,197.7 L205.6,198.5 L205.9,202.6 L206.2,204.7 L206.6,200.2 L206.9,197.3 L207.2,200.9 L207.6,194.2 L207.9,197.4 L208.2,202.2 L208.5,200.4 L208.9,195.6 L209.2,195.3 L209.5,201.3 L209.9,199.6 L210.2,198.4 L210.5,200.9 L210.9,199.0 L211.2,196.0 L211.5,201.9 L211.8,198.9 L212.2,198.2 L212.5,197.2 L212.8,200.4 L213.2,198.2 L213.5,201.0 L213.8,199.1 L214.2,202.4 L214.5,199.1 L214.8,198.5 L215.1,195.3 L215.5,187.5 L215.8,201.1 L216.1,206.4 L216.5,196.8 L216.8,194.9 L217.1,199.8 L217.5,200.4 L217.8,198.0 L218.1,199.6 L218.4,196.0 L218.8,198.8 L219.1,201.3 L219.4,202.9 L219.8,199.2 L220.1,198.9 L220.4,200.2 L220.8,201.7 L221.1,200.6 L221.4,197.8 L221.7,200.2 L222.1,201.6 L222.4,198.2 L222.7,197.0 L223.1,200.6 L223.4,200.2 L223.7,201.5 L224.1,199.5 L224.4,198.2 L224.7,198.7 L225.0,197.7 L225.4,197.5 L225.7,198.4 L226.0,198.7 L226.4,202.6 L226.7,197.5 L227.0,199.8 L227.4,198.6 L227.7,203.1 L228.0,200.0 L228.3,202.8 L228.7,201.1 L229.0,199.4 L229.3,198.2 L229.7,202.5 L230.0,200.9 L230.3,202.7 L230.7,202.0 L231.0,201.4 L231.3,200.1 L231.6,197.4 L232.0,201.4 L232.3,199.9 L232.6,200.9 L233.0,199.8 L233.3,198.7 L233.6,197.6 L234.0,200.9 L234.3,202.0 L234.6,198.6 L234.9,200.3 L235.3,202.3 L235.6,196.1 L235.9,194.4 L236.3,201.3 L236.6,207.8 L236.9,195.2 L237.3,205.6 L237.6,196.8 L237.9,198.5 L238.2,201.6 L238.6,198.1 L238.9,204.8 L239.2,201.8 L239.6,191.0 L239.9,205.0 L240.2,202.6 L240.6,196.9 L240.9,189.6 L241.2,200.6 L241.5,200.0 L241.9,199.7 L242.2,200.5 L242.5,200.7 L242.9,198.1 L243.2,198.7 L243.5,200.6 L243.9,201.8 L244.2,202.0 L244.5,196.8 L244.8,201.2 L245.2,200.4 L245.5,198.4 L245.8,199.8 L246.2,200.4 L246.5,203.1 L246.8,196.9 L247.2,200.7 L247.5,199.0 L247.8,198.7 L248.1,201.7 L248.5,201.0 L248.8,197.0 L249.1,198.8 L249.5,199.9 L249.8,196.4 L250.1,201.3 L250.5,199.4 L250.8,200.5 L251.1,201.3 L251.4,204.7 L251.8,201.1 L252.1,200.0 L252.4,204.3 L252.8,199.5 L253.1,199.5 L253.4,197.5 L253.8,202.3 L254.1,200.3 L254.4,200.7 L254.7,199.5 L255.1,199.0 L255.4,197.9 L255.7,197.7 L256.1,200.4 L256.4,199.6 L256.7,203.2 L257.1,197.7 L257.4,198.0 L257.7,197.2 L258.0,202.8 L258.4,196.8 L258.7,201.0 L259.0,202.5 L259.4,199.4 L259.7,201.5 L260.0,195.3 L260.4,199.0 L260.7,196.2 L261.0,199.8 L261.3,199.7 L261.7,198.4 L262.0,201.8 L262.3,200.3 L262.7,198.1 L263.0,198.5 L263.3,196.9 L263.7,199.7 L264.0,204.4 L264.3,198.4 L264.6,200.8 L265.0,199.5 L265.3,202.6 L265.6,202.2 L266.0,200.4 L266.3,196.8 L266.6,199.5 L267.0,203.4 L267.3,199.9 L267.6,201.6 L267.9,198.6 L268.3,195.6 L268.6,200.4 L268.9,200.4 L269.3,198.6 L269.6,199.5 L269.9,201.1 L270.3,199.4 L270.6,201.6 L270.9,200.4 L271.2,196.0 L271.6,200.5 L271.9,199.8 L272.2,199.6 L272.6,202.3 L272.9,200.2 L273.2,202.1 L273.6,203.3 L273.9,201.2 L274.2,197.6 L274.5,199.6 L274.9,202.9 L275.2,200.3 L275.5,198.8 L275.9,193.8 L276.2,202.5 L276.5,201.8 L276.9,202.7 L277.2,199.3 L277.5,207.8 L277.8,200.1 L278.2,200.0 L278.5,195.8 L278.8,199.6 L279.2,197.0 L279.5,203.1 L279.8,203.3 L280.2,204.4 L280.5,201.7 L280.8,198.9 L281.1,202.5 L281.5,199.9 L281.8,201.6 L282.1,198.3 L282.5,199.3 L282.8,202.0 L283.1,204.8 L283.5,201.3 L283.8,207.0 L284.1,208.0 L284.4,199.5 L284.8,202.0 L285.1,200.3 L285.4,202.0 L285.8,200.4 L286.1,201.8 L286.4,204.1 L286.8,203.9 L287.1,202.7 L287.4,201.9 L287.7,202.5 L288.1,202.2 L288.4,203.2 L288.7,202.4 L289.1,203.2 L289.4,199.1 L289.7,203.7 L290.1,205.6 L290.4,202.7 L290.7,199.8 L291.0,205.7 L291.4,201.9 L291.7,195.8 L292.0,201.8 L292.4,203.7 L292.7,202.8 L293.0,204.5 L293.4,202.6 L293.7,201.3 L294.0,196.9 L294.3,198.9 L294.7,202.1 L295.0,203.5 L295.3,199.8 L295.7,201.1 L296.0,203.5 L296.3,198.4 L296.7,198.1 L297.0,202.1 L297.3,198.9 L297.6,201.4 L298.0,197.6 L298.3,202.3 L298.6,199.5 L299.0,204.0 L299.3,202.2 L299.6,202.9 L300.0,203.4 L300.3,200.7 L300.6,203.7 L300.9,204.5 L301.3,202.6 L301.6,204.4 L301.9,200.1 L302.3,203.3 L302.6,202.1 L302.9,199.2 L303.3,200.7 L303.6,199.8 L303.9,199.6 L304.2,201.4 L304.6,203.4 L304.9,200.7 L305.2,202.3 L305.6,199.0 L305.9,202.9 L306.2,205.7 L306.6,205.0 L306.9,207.4 L307.2,202.3 L307.5,201.4 L307.9,203.0 L308.2,199.7 L308.5,199.9 L308.9,204.4 L309.2,200.1 L309.5,206.1 L309.9,199.1 L310.2,202.9 L310.5,199.6 L310.8,202.7 L311.2,200.1 L311.5,202.2 L311.8,201.8 L312.2,201.6 L312.5,204.0 L312.8,205.6 L313.2,201.0 L313.5,204.2 L313.8,199.7 L314.1,203.0 L314.5,207.7 L314.8,200.1 L315.1,200.9 L315.5,198.3 L315.8,201.7 L316.1,202.1 L316.5,210.9 L316.8,203.3 L317.1,205.7 L317.4,204.6 L317.8,201.1 L318.1,203.0 L318.4,205.4 L318.8,202.4 L319.1,202.4 L319.4,202.9 L319.8,198.5 L320.1,200.3 L320.4,203.0 L320.7,203.2 L321.1,200.5 L321.4,201.8 L321.7,202.4 L322.1,201.9 L322.4,203.9 L322.7,202.5 L323.1,202.9 L323.4,199.5 L323.7,200.5 L324.0,203.6 L324.4,199.4 L324.7,203.3 L325.0,201.5 L325.4,201.0 L325.7,203.9 L326.0,196.4 L326.4,200.3 L326.7,200.4 L327.0,201.7 L327.3,207.3 L327.7,197.0 L328.0,201.7 L328.3,201.5 L328.7,204.3 L329.0,201.2 L329.3,196.7 L329.7,204.8 L330.0,202.1 L330.3,202.0 L330.6,198.8 L331.0,199.4 L331.3,200.4 L331.6,203.8 L332.0,204.2 L332.3,200.7 L332.6,203.6 L333.0,201.4 L333.3,202.6 L333.6,202.5 L333.9,203.3 L334.3,200.9 L334.6,201.5 L334.9,202.0 L335.3,201.8 L335.6,199.6 L335.9,205.7 L336.3,200.7 L336.6,198.3 L336.9,202.4 L337.2,204.1 L337.6,196.7 L337.9,206.3 L338.2,206.4 L338.6,199.2 L338.9,201.7 L339.2,206.4 L339.6,202.7 L339.9,198.8 L340.2,200.8 L340.5,204.8 L340.9,198.6 L341.2,201.3" stroke="#0072BD" stroke-width="1.05" fill="none" stroke-linejoin="round" clip-path="url(#cl)"/>
<path d="M432.4,39.6 L432.7,42.6 L433.1,44.3 L433.4,44.2 L433.7,43.5 L434.0,43.1 L434.4,43.8 L434.7,42.9 L435.0,44.2 L435.4,42.1 L435.7,42.8 L436.0,42.2 L436.4,41.4 L436.7,42.6 L437.0,41.6 L437.3,40.7 L437.7,41.0 L438.0,41.8 L438.3,40.2 L438.7,41.7 L439.0,41.2 L439.3,41.7 L439.7,41.7 L440.0,41.6 L440.3,40.9 L440.6,40.5 L441.0,41.5 L441.3,41.2 L441.6,39.7 L442.0,42.2 L442.3,40.1 L442.6,39.8 L443.0,39.1 L443.3,42.9 L443.6,40.2 L443.9,40.2 L444.3,41.0 L444.6,39.8 L444.9,39.9 L445.3,39.9 L445.6,39.5 L445.9,39.8 L446.3,40.4 L446.6,39.8 L446.9,40.6 L447.2,39.4 L447.6,39.9 L447.9,38.9 L448.2,39.9 L448.6,39.7 L448.9,41.0 L449.2,40.6 L449.6,40.6 L449.9,41.5 L450.2,41.1 L450.5,40.7 L450.9,39.8 L451.2,39.4 L451.5,40.3 L451.9,40.1 L452.2,39.8 L452.5,40.0 L452.9,39.0 L453.2,41.1 L453.5,39.4 L453.8,39.5 L454.2,40.3 L454.5,38.8 L454.8,40.5 L455.2,38.9 L455.5,39.9 L455.8,39.9 L456.2,40.9 L456.5,37.5 L456.8,39.4 L457.1,37.2 L457.5,38.6 L457.8,41.1 L458.1,43.3 L458.5,44.3 L458.8,39.3 L459.1,37.4 L459.5,39.7 L459.8,41.4 L460.1,37.9 L460.4,38.1 L460.8,39.7 L461.1,41.0 L461.4,38.8 L461.8,39.3 L462.1,37.4 L462.4,35.6 L462.8,35.9 L463.1,35.4 L463.4,34.5 L463.7,35.0 L464.1,38.5 L464.4,41.3 L464.7,42.2 L465.1,42.1 L465.4,41.2 L465.7,41.7 L466.1,40.9 L466.4,40.0 L466.7,36.9 L467.0,33.5 L467.4,31.2 L467.7,30.7 L468.0,31.7 L468.4,33.2 L468.7,36.2 L469.0,38.9 L469.4,42.6 L469.7,49.0 L470.0,48.0 L470.3,46.5 L470.7,44.9 L471.0,43.6 L471.3,41.7 L471.7,39.7 L472.0,41.4 L472.3,46.9 L472.7,56.8 L473.0,66.5 L473.3,78.9 L473.6,88.5 L474.0,94.6 L474.3,98.5 L474.6,97.0 L475.0,91.6 L475.3,88.3 L475.6,79.9 L476.0,73.5 L476.3,68.0 L476.6,67.4 L476.9,59.1 L477.3,53.3 L477.6,49.0 L477.9,43.5 L478.3,40.1 L478.6,36.0 L478.9,34.5 L479.3,32.7 L479.6,36.3 L479.9,39.9 L480.2,45.8 L480.6,51.3 L480.9,55.8 L481.2,59.3 L481.6,69.1 L481.9,77.0 L482.2,82.8 L482.6,91.0 L482.9,93.6 L483.2,92.2 L483.5,85.9 L483.9,75.5 L484.2,66.2 L484.5,59.6 L484.9,55.4 L485.2,50.0 L485.5,47.4 L485.9,48.9 L486.2,56.1 L486.5,59.8 L486.8,58.9 L487.2,55.8 L487.5,54.1 L487.8,50.9 L488.2,51.4 L488.5,50.3 L488.8,51.5 L489.2,54.2 L489.5,57.8 L489.8,56.8 L490.1,53.5 L490.5,52.9 L490.8,50.1 L491.1,47.5 L491.5,46.7 L491.8,46.7 L492.1,45.5 L492.5,44.2 L492.8,43.6 L493.1,43.8 L493.4,44.4 L493.8,42.8 L494.1,42.7 L494.4,45.5 L494.8,43.2 L495.1,45.6 L495.4,44.7 L495.8,45.6 L496.1,44.3 L496.4,45.2 L496.7,46.1 L497.1,45.8 L497.4,45.0 L497.7,46.0 L498.1,45.2 L498.4,44.8 L498.7,46.5 L499.1,47.2 L499.4,47.0 L499.7,45.5 L500.0,47.1 L500.4,46.9 L500.7,46.1 L501.0,44.4" stroke="#7E2F8E" stroke-width="1.05" fill="none" stroke-linejoin="round" clip-path="url(#cr)"/>
<path d="M511.2,47.9 L511.5,47.5 L511.9,46.9 L512.2,46.8 L512.5,46.8 L512.8,46.9 L513.2,46.6 L513.5,47.2 L513.8,46.6 L514.2,46.6 L514.5,47.1 L514.8,46.9 L515.2,47.1 L515.5,46.4 L515.8,47.7 L516.1,47.4 L516.5,47.1 L516.8,47.8 L517.1,46.4 L517.5,47.5 L517.8,48.7 L518.1,47.5 L518.5,48.2 L518.8,48.6 L519.1,47.5 L519.4,47.9 L519.8,47.6 L520.1,48.5 L520.4,48.0 L520.8,47.7 L521.1,48.9 L521.4,47.5 L521.8,48.2 L522.1,49.2 L522.4,48.8 L522.7,50.0 L523.1,49.7 L523.4,48.8 L523.7,49.0 L524.1,48.8 L524.4,49.2 L524.7,49.3 L525.1,49.5 L525.4,49.3 L525.7,48.6 L526.0,48.9 L526.4,49.9 L526.7,49.8 L527.0,49.3 L527.4,49.4 L527.7,49.5 L528.0,49.7 L528.4,49.0 L528.7,50.1 L529.0,49.6 L529.3,50.0 L529.7,48.9 L530.0,50.0 L530.3,50.5 L530.7,49.0 L531.0,50.6 L531.3,50.2 L531.7,49.8 L532.0,49.5 L532.3,50.8 L532.6,50.4 L533.0,50.6 L533.3,50.2 L533.6,49.9 L534.0,50.5 L534.3,49.5 L534.6,50.1 L535.0,48.7 L535.3,48.9 L535.6,48.5 L535.9,49.5 L536.3,48.3 L536.6,48.6 L536.9,49.6 L537.3,49.7 L537.6,50.9 L537.9,50.9 L538.3,50.6 L538.6,51.0 L538.9,50.2 L539.2,50.9 L539.6,51.3 L539.9,51.5 L540.2,51.0 L540.6,51.2 L540.9,51.2 L541.2,52.0 L541.6,51.7 L541.9,51.2 L542.2,51.0 L542.5,51.2 L542.9,50.6 L543.2,50.7 L543.5,49.9 L543.9,50.9 L544.2,50.9 L544.5,50.6 L544.9,50.7 L545.2,50.6 L545.5,51.3 L545.8,50.5 L546.2,49.9 L546.5,50.0 L546.8,50.8 L547.2,51.0 L547.5,50.9 L547.8,51.0 L548.2,50.8 L548.5,50.3 L548.8,50.7 L549.1,50.3 L549.5,51.0 L549.8,50.7 L550.1,51.3 L550.5,51.2 L550.8,50.5 L551.1,51.8 L551.5,51.8 L551.8,50.9 L552.1,51.5 L552.4,51.7 L552.8,51.3 L553.1,51.7 L553.4,51.4 L553.8,51.8 L554.1,51.3 L554.4,51.1 L554.8,51.4 L555.1,51.6 L555.4,51.2 L555.7,50.8 L556.1,50.8 L556.4,51.0 L556.7,50.8 L557.1,51.1 L557.4,51.0 L557.7,50.6 L558.1,50.4 L558.4,50.3 L558.7,50.7 L559.0,50.2 L559.4,49.4 L559.7,49.8 L560.0,49.4 L560.4,49.5 L560.7,49.5 L561.0,49.4 L561.4,49.2 L561.7,48.8 L562.0,50.1 L562.3,50.5 L562.7,50.6 L563.0,50.4 L563.3,50.1 L563.7,50.4 L564.0,50.0 L564.3,50.3 L564.7,50.3 L565.0,49.4 L565.3,52.0 L565.6,50.4 L566.0,49.3 L566.3,50.7 L566.6,50.4 L567.0,50.5 L567.3,50.4 L567.6,50.2 L568.0,49.9 L568.3,50.2 L568.6,50.3 L568.9,51.4 L569.3,51.2 L569.6,50.2 L569.9,50.1 L570.3,50.5 L570.6,50.4 L570.9,49.9 L571.3,49.7 L571.6,50.8 L571.9,50.5 L572.2,49.4 L572.6,49.2 L572.9,49.7 L573.2,50.3 L573.6,50.5 L573.9,50.1 L574.2,49.6 L574.6,50.4 L574.9,50.6 L575.2,50.4 L575.5,50.3 L575.9,50.8 L576.2,50.4 L576.5,50.1 L576.9,50.5 L577.2,50.0 L577.5,51.1 L577.9,51.0 L578.2,50.3 L578.5,50.8 L578.8,51.3 L579.2,50.0 L579.5,51.0 L579.8,52.9" stroke="#7E2F8E" stroke-width="1.05" fill="none" stroke-linejoin="round" clip-path="url(#cr)"/>
<path d="M394.9,98.6 L395.2,98.6 L395.6,102.2 L395.9,99.4 L396.2,102.5 L396.5,100.5 L396.9,100.7 L397.2,99.8 L397.5,100.5 L397.9,98.8 L398.2,97.8 L398.5,97.6 L398.9,95.5 L399.2,95.8 L399.5,95.0 L399.8,93.7 L400.2,93.8 L400.5,93.9 L400.8,97.0 L401.2,94.6 L401.5,93.9 L401.8,95.1 L402.2,96.8 L402.5,95.9 L402.8,96.2 L403.1,96.4 L403.5,97.0 L403.8,97.4 L404.1,97.6 L404.5,94.4 L404.8,95.0 L405.1,92.5 L405.5,97.3 L405.8,97.5 L406.1,97.5 L406.4,95.6 L406.8,96.7 L407.1,94.6 L407.4,94.3 L407.8,91.8 L408.1,93.0 L408.4,91.2 L408.8,95.6 L409.1,96.4 L409.4,93.1 L409.7,94.7 L410.1,94.5 L410.4,93.0 L410.7,91.8 L411.1,93.2 L411.4,92.2 L411.7,93.8 L412.1,94.4 L412.4,94.3 L412.7,94.2 L413.0,95.7 L413.4,93.6 L413.7,96.2 L414.0,93.1 L414.4,95.3 L414.7,95.5 L415.0,93.8 L415.4,92.9 L415.7,96.4 L416.0,94.5 L416.3,96.7 L416.7,97.1 L417.0,95.7 L417.3,95.8 L417.7,97.9 L418.0,97.1 L418.3,95.0 L418.7,96.4 L419.0,96.7 L419.3,96.0 L419.6,96.0 L420.0,95.5 L420.3,95.6 L420.6,94.0 L421.0,93.5 L421.3,97.1 L421.6,94.8 L422.0,96.5 L422.3,94.1 L422.6,96.3 L422.9,95.0 L423.3,100.8 L423.6,95.0 L423.9,94.6 L424.3,97.6 L424.6,97.5 L424.9,92.6 L425.3,96.0 L425.6,97.0 L425.9,93.8 L426.2,96.5 L426.6,94.4 L426.9,94.2 L427.2,95.0 L427.6,94.9 L427.9,93.4 L428.2,99.0 L428.6,95.2 L428.9,98.4 L429.2,96.9 L429.5,95.8 L429.9,97.9 L430.2,95.7 L430.5,97.1 L430.9,96.4 L431.2,96.5 L431.5,95.9 L431.9,95.8 L432.2,98.4 L432.5,94.7 L432.8,94.7 L433.2,95.0 L433.5,96.1 L433.8,96.0 L434.2,96.7 L434.5,93.2 L434.8,95.9 L435.2,95.5 L435.5,95.5 L435.8,96.2 L436.1,92.9 L436.5,96.4 L436.8,96.2 L437.1,94.1 L437.5,100.0 L437.8,98.5 L438.1,95.5 L438.5,96.9 L438.8,95.7 L439.1,94.9 L439.4,94.5 L439.8,95.2 L440.1,97.4 L440.4,96.7 L440.8,94.4 L441.1,97.1 L441.4,95.4 L441.8,94.2 L442.1,95.7 L442.4,93.5 L442.7,92.4 L443.1,96.7 L443.4,92.1 L443.7,95.3 L444.1,91.9 L444.4,94.1 L444.7,93.8 L445.1,93.5 L445.4,91.0 L445.7,94.5 L446.0,94.3 L446.4,93.0 L446.7,94.3 L447.0,96.1 L447.4,93.4 L447.7,95.2 L448.0,93.1 L448.4,95.4 L448.7,95.6 L449.0,98.6 L449.3,96.3 L449.7,96.1 L450.0,97.6 L450.3,93.9 L450.7,97.0 L451.0,94.5 L451.3,94.5 L451.7,97.2 L452.0,95.8 L452.3,97.2 L452.6,93.9 L453.0,95.3 L453.3,93.0 L453.6,94.4 L454.0,92.5 L454.3,96.8 L454.6,93.2 L455.0,92.0 L455.3,92.6 L455.6,91.9 L455.9,92.7 L456.3,88.9 L456.6,88.8 L456.9,98.5 L457.3,97.1 L457.6,93.3 L457.9,91.3 L458.3,90.4 L458.6,93.4 L458.9,89.9 L459.2,95.6 L459.6,96.3 L459.9,92.0 L460.2,91.9 L460.6,93.1 L460.9,94.0 L461.2,95.6 L461.6,88.4 L461.9,84.4 L462.2,82.9 L462.5,86.1 L462.9,89.6 L463.2,96.1 L463.5,96.3 L463.9,92.7 L464.2,94.1 L464.5,95.4 L464.9,95.7 L465.2,94.2 L465.5,91.1 L465.8,91.1 L466.2,90.6 L466.5,94.1 L466.8,95.7 L467.2,93.6 L467.5,97.9 L467.8,98.1 L468.2,102.6 L468.5,104.8 L468.8,108.4 L469.1,109.3 L469.5,106.8 L469.8,95.6 L470.1,77.8 L470.5,71.1 L470.8,76.3 L471.1,87.6 L471.5,102.2 L471.8,114.9 L472.1,124.8 L472.4,135.6 L472.8,145.4 L473.1,152.5 L473.4,158.8 L473.8,161.6 L474.1,158.9 L474.4,153.9 L474.8,146.2 L475.1,139.3 L475.4,132.8 L475.7,124.3 L476.1,118.2 L476.4,110.9 L476.7,104.0 L477.1,100.7 L477.4,100.0 L477.7,100.5 L478.1,101.7 L478.4,102.9 L478.7,103.8 L479.0,106.3 L479.4,108.2 L479.7,110.1 L480.0,114.5 L480.4,117.0 L480.7,119.5 L481.0,124.6 L481.4,127.1 L481.7,129.0 L482.0,130.2 L482.3,124.5 L482.7,119.9 L483.0,115.8 L483.3,111.7 L483.7,108.8 L484.0,108.1 L484.3,105.9 L484.7,104.1 L485.0,105.0 L485.3,107.3 L485.6,110.1 L486.0,109.3 L486.3,113.0 L486.6,113.4 L487.0,112.0 L487.3,112.9 L487.6,109.9 L488.0,109.3 L488.3,110.2 L488.6,107.0 L488.9,106.0 L489.3,105.2 L489.6,105.3 L489.9,110.4 L490.3,105.4 L490.6,106.5 L490.9,106.7 L491.3,102.4 L491.6,100.7 L491.9,101.6 L492.2,100.6 L492.6,97.0 L492.9,97.1 L493.2,99.6 L493.6,99.6 L493.9,99.2 L494.2,101.5 L494.6,101.7 L494.9,99.8 L495.2,101.9 L495.5,98.8 L495.9,97.8 L496.2,98.0 L496.5,101.0 L496.9,98.5 L497.2,96.6 L497.5,97.8 L497.9,97.6 L498.2,97.5" stroke="#EDB120" stroke-width="1.05" fill="none" stroke-linejoin="round" clip-path="url(#cr)"/>
<path d="M513.7,104.6 L514.0,103.7 L514.4,102.9 L514.7,103.9 L515.0,105.7 L515.4,104.0 L515.7,103.0 L516.0,104.2 L516.3,102.1 L516.7,103.8 L517.0,103.1 L517.3,104.9 L517.7,104.1 L518.0,104.9 L518.3,106.4 L518.7,103.3 L519.0,102.7 L519.3,104.6 L519.6,104.0 L520.0,104.3 L520.3,102.9 L520.6,104.2 L521.0,103.7 L521.3,100.6 L521.6,102.7 L522.0,103.5 L522.3,104.1 L522.6,102.0 L522.9,101.8 L523.3,104.4 L523.6,102.4 L523.9,103.0 L524.3,103.5 L524.6,104.2 L524.9,103.2 L525.3,102.1 L525.6,104.5 L525.9,102.9 L526.2,102.8 L526.6,105.8 L526.9,104.5 L527.2,102.2 L527.6,102.7 L527.9,103.2 L528.2,102.5 L528.6,101.3 L528.9,104.4 L529.2,104.3 L529.5,103.8 L529.9,103.2 L530.2,104.0 L530.5,104.4 L530.9,102.1 L531.2,103.0 L531.5,102.5 L531.9,104.2 L532.2,103.4 L532.5,101.2 L532.8,102.0 L533.2,105.0 L533.5,101.5 L533.8,103.0 L534.2,101.9 L534.5,104.1 L534.8,102.9 L535.2,102.6 L535.5,101.8 L535.8,102.8 L536.1,104.0 L536.5,103.7 L536.8,101.3 L537.1,105.1 L537.5,103.1 L537.8,101.5 L538.1,103.1 L538.5,102.3 L538.8,102.3 L539.1,102.4 L539.4,100.4 L539.8,102.8 L540.1,101.5 L540.4,104.1 L540.8,103.1 L541.1,105.1 L541.4,104.2 L541.8,104.7 L542.1,104.1 L542.4,105.7 L542.7,103.7 L543.1,103.4 L543.4,104.4 L543.7,100.6 L544.1,103.5 L544.4,104.3 L544.7,103.6 L545.1,105.8 L545.4,105.3 L545.7,104.5 L546.0,103.7 L546.4,105.7 L546.7,103.6 L547.0,104.0 L547.4,105.5 L547.7,105.1 L548.0,106.9 L548.4,104.0 L548.7,102.1 L549.0,105.4 L549.3,106.4 L549.7,104.7 L550.0,106.7 L550.3,107.1 L550.7,105.1 L551.0,104.7 L551.3,104.2 L551.7,106.7 L552.0,107.3 L552.3,107.2 L552.6,104.9 L553.0,106.0 L553.3,105.5 L553.6,105.6 L554.0,106.1 L554.3,106.0 L554.6,108.1 L555.0,109.1 L555.3,109.8 L555.6,109.3 L555.9,108.6 L556.3,109.5 L556.6,110.1 L556.9,108.8 L557.3,108.9 L557.6,107.9 L557.9,106.8 L558.3,107.3 L558.6,104.6 L558.9,107.9 L559.2,104.4 L559.6,106.8 L559.9,104.3 L560.2,107.8 L560.6,106.9 L560.9,104.9 L561.2,104.7 L561.6,103.8 L561.9,105.1 L562.2,105.3 L562.5,108.0 L562.9,103.0 L563.2,106.2 L563.5,104.0 L563.9,105.0 L564.2,105.8 L564.5,105.6 L564.9,105.5 L565.2,105.1 L565.5,105.2 L565.8,105.6 L566.2,106.8 L566.5,103.5 L566.8,104.8 L567.2,103.9 L567.5,104.0 L567.8,103.9 L568.2,106.0 L568.5,107.3 L568.8,106.1 L569.1,103.0 L569.5,104.6 L569.8,102.9 L570.1,104.7 L570.5,105.6 L570.8,104.9 L571.1,105.2 L571.5,104.0 L571.8,101.6 L572.1,102.0 L572.4,103.7 L572.8,104.6 L573.1,105.5 L573.4,103.8 L573.8,104.5 L574.1,104.8 L574.4,105.0 L574.8,104.5 L575.1,103.5 L575.4,106.0 L575.7,105.1 L576.1,105.0 L576.4,102.8 L576.7,104.4 L577.1,102.1 L577.4,101.7 L577.7,102.5 L578.1,103.6 L578.4,104.8 L578.7,106.1 L579.0,104.2 L579.4,106.3 L579.7,103.1 L580.0,104.8 L580.4,102.1 L580.7,103.7 L581.0,103.2 L581.4,103.3 L581.7,103.9 L582.0,100.6 L582.3,102.7 L582.7,101.5 L583.0,102.8 L583.3,103.0 L583.7,102.1 L584.0,101.7 L584.3,104.5 L584.7,103.2 L585.0,101.9 L585.3,103.8 L585.6,101.7 L586.0,105.1 L586.3,102.2 L586.6,104.8 L587.0,102.9 L587.3,103.8 L587.6,103.1 L588.0,104.0 L588.3,103.0 L588.6,104.4 L588.9,103.8 L589.3,103.8 L589.6,105.3 L589.9,102.5 L590.3,105.2 L590.6,103.2 L590.9,101.4 L591.3,103.8 L591.6,102.9 L591.9,105.0 L592.2,102.4 L592.6,103.0 L592.9,103.2 L593.2,100.6 L593.6,103.8 L593.9,101.8 L594.2,104.9 L594.6,105.3 L594.9,103.3 L595.2,101.3 L595.5,103.2 L595.9,103.3 L596.2,104.0 L596.5,102.7 L596.9,101.5 L597.2,102.7 L597.5,101.8 L597.9,105.0 L598.2,102.0 L598.5,102.1 L598.8,103.0 L599.2,101.5 L599.5,102.4 L599.8,103.0 L600.2,102.7 L600.5,103.1 L600.8,104.9 L601.2,104.0 L601.5,102.0 L601.8,102.8 L602.1,104.2 L602.5,102.6 L602.8,103.2 L603.1,103.0 L603.5,103.4 L603.8,102.7 L604.1,102.5 L604.5,101.6 L604.8,103.5 L605.1,101.9 L605.4,105.1 L605.8,103.0 L606.1,102.8 L606.4,104.4 L606.8,103.2 L607.1,103.3 L607.4,103.3 L607.8,102.3 L608.1,103.5 L608.4,102.7 L608.7,104.9 L609.1,102.8 L609.4,102.8 L609.7,102.8 L610.1,104.4 L610.4,106.0 L610.7,102.3 L611.1,104.2 L611.4,103.6 L611.7,103.2 L612.0,104.4 L612.4,102.5 L612.7,105.0 L613.0,104.3 L613.4,102.5 L613.7,106.0 L614.0,105.1 L614.4,104.7 L614.7,102.3 L615.0,103.6 L615.3,103.5 L615.7,105.0 L616.0,105.7 L616.3,101.7 L616.7,103.9 L617.0,103.7 L617.3,105.1 L617.7,103.8" stroke="#EDB120" stroke-width="1.05" fill="none" stroke-linejoin="round" clip-path="url(#cr)"/>
<path d="M425.2,163.5 L425.5,162.1 L425.9,160.2 L426.2,158.7 L426.5,158.7 L426.8,157.7 L427.2,156.0 L427.5,158.6 L427.8,157.6 L428.2,157.1 L428.5,157.5 L428.8,154.7 L429.2,155.7 L429.5,153.9 L429.8,156.8 L430.1,154.5 L430.5,155.3 L430.8,157.0 L431.1,156.3 L431.5,155.3 L431.8,157.4 L432.1,154.3 L432.5,155.8 L432.8,155.1 L433.1,155.7 L433.4,154.8 L433.8,154.3 L434.1,155.1 L434.4,153.8 L434.8,155.7 L435.1,155.0 L435.4,156.2 L435.8,155.2 L436.1,155.1 L436.4,156.1 L436.7,157.1 L437.1,154.1 L437.4,155.9 L437.7,156.2 L438.1,154.3 L438.4,154.7 L438.7,156.0 L439.1,154.7 L439.4,154.8 L439.7,156.7 L440.0,154.5 L440.4,154.5 L440.7,153.1 L441.0,154.0 L441.4,154.0 L441.7,156.6 L442.0,156.2 L442.4,154.2 L442.7,157.0 L443.0,155.9 L443.3,155.1 L443.7,156.0 L444.0,155.6 L444.3,154.5 L444.7,153.6 L445.0,154.4 L445.3,155.1 L445.7,154.8 L446.0,154.4 L446.3,155.9 L446.6,154.2 L447.0,156.0 L447.3,154.7 L447.6,155.3 L448.0,154.1 L448.3,155.3 L448.6,154.7 L449.0,153.8 L449.3,155.4 L449.6,155.3 L449.9,156.2 L450.3,155.8 L450.6,154.5 L450.9,155.1 L451.3,153.5 L451.6,154.9 L451.9,158.9 L452.3,156.9 L452.6,156.9 L452.9,156.1 L453.2,158.1 L453.6,157.3 L453.9,153.2 L454.2,154.4 L454.6,158.4 L454.9,155.7 L455.2,151.8 L455.6,151.3 L455.9,154.9 L456.2,160.1 L456.5,159.8 L456.9,159.9 L457.2,156.6 L457.5,156.0 L457.9,159.6 L458.2,161.4 L458.5,159.7 L458.9,154.9 L459.2,155.9 L459.5,157.4 L459.8,164.1 L460.2,164.4 L460.5,162.2 L460.8,163.3 L461.2,160.8 L461.5,157.0 L461.8,156.5 L462.2,158.8 L462.5,162.3 L462.8,161.5 L463.1,159.2 L463.5,160.4 L463.8,159.4 L464.1,158.4 L464.5,153.9 L464.8,150.4 L465.1,152.2 L465.5,152.0 L465.8,151.7 L466.1,157.2 L466.4,157.0 L466.8,151.6 L467.1,148.6 L467.4,152.8 L467.8,156.1 L468.1,156.0 L468.4,152.6 L468.8,152.4 L469.1,154.2 L469.4,151.7 L469.7,152.9 L470.1,152.1 L470.4,150.8 L470.7,151.1 L471.1,150.1 L471.4,151.4 L471.7,153.7 L472.1,161.0 L472.4,165.6 L472.7,172.9 L473.0,183.6 L473.4,186.5 L473.7,192.9 L474.0,197.7 L474.4,204.5 L474.7,205.6 L475.0,208.4 L475.4,205.5 L475.7,203.6 L476.0,197.6 L476.3,189.6 L476.7,179.8 L477.0,171.9 L477.3,167.9 L477.7,160.4 L478.0,154.3 L478.3,151.8 L478.7,155.3 L479.0,160.6 L479.3,160.6 L479.6,170.7 L480.0,174.5 L480.3,179.5 L480.6,185.3 L481.0,188.9 L481.3,196.3 L481.6,195.8 L482.0,195.5 L482.3,192.3 L482.6,189.9 L482.9,186.4 L483.3,182.3 L483.6,179.8 L483.9,178.9 L484.3,175.6 L484.6,169.1 L484.9,164.6 L485.3,163.1 L485.6,163.4 L485.9,166.7 L486.2,168.0 L486.6,172.4 L486.9,171.7 L487.2,172.6 L487.6,173.8 L487.9,175.1 L488.2,174.1 L488.6,172.1 L488.9,167.6 L489.2,165.5 L489.5,163.8 L489.9,164.1 L490.2,163.9 L490.5,163.5 L490.9,164.6 L491.2,164.8 L491.5,165.0 L491.9,163.7 L492.2,164.9 L492.5,162.9 L492.8,162.4 L493.2,162.5 L493.5,158.7 L493.8,157.3 L494.2,157.0 L494.5,157.8 L494.8,160.1 L495.2,155.6 L495.5,158.3 L495.8,160.2 L496.1,161.3 L496.5,157.8 L496.8,152.1 L497.1,154.7 L497.5,158.6 L497.8,160.2 L498.1,158.9 L498.5,155.9 L498.8,147.3 L499.1,149.5 L499.4,157.9 L499.8,160.1 L500.1,159.3 L500.4,159.8 L500.8,160.3 L501.1,157.7 L501.4,152.9 L501.8,154.8 L502.1,155.3 L502.4,155.6 L502.7,161.5 L503.1,161.3 L503.4,159.3 L503.7,157.7 L504.1,160.8 L504.4,165.4 L504.7,164.0 L505.1,163.7 L505.4,162.8 L505.7,157.9 L506.0,160.1 L506.4,160.7 L506.7,159.1 L507.0,158.7 L507.4,159.0 L507.7,158.6 L508.0,158.9 L508.4,159.2 L508.7,158.1 L509.0,159.2 L509.3,157.9 L509.7,158.1 L510.0,160.2 L510.3,160.6 L510.7,158.2 L511.0,158.2 L511.3,156.2 L511.7,159.5 L512.0,158.4 L512.3,157.6 L512.6,159.0 L513.0,157.5 L513.3,159.5 L513.6,160.9 L514.0,159.8 L514.3,158.4 L514.6,158.8 L515.0,159.5 L515.3,159.9 L515.6,159.2 L515.9,159.4 L516.3,158.6 L516.6,159.1 L516.9,159.5 L517.3,158.6 L517.6,157.4 L517.9,160.0 L518.3,159.1 L518.6,158.2 L518.9,158.7 L519.2,158.3 L519.6,155.6 L519.9,158.2 L520.2,156.9 L520.6,158.3 L520.9,158.2 L521.2,159.3 L521.6,158.3 L521.9,158.8 L522.2,158.3 L522.5,158.2 L522.9,157.4 L523.2,159.5 L523.5,158.8 L523.9,157.9 L524.2,158.9 L524.5,158.2 L524.9,158.0 L525.2,158.8 L525.5,159.6 L525.8,158.3 L526.2,157.3 L526.5,157.9 L526.8,160.1 L527.2,157.5 L527.5,159.3 L527.8,158.0 L528.2,157.7 L528.5,158.2 L528.8,156.8" stroke="#D95319" stroke-width="1.05" fill="none" stroke-linejoin="round" clip-path="url(#cr)"/>
<path d="M544.3,157.7 L544.6,157.1 L545.0,156.5 L545.3,157.3 L545.6,156.9 L546.0,157.9 L546.3,157.4 L546.6,157.9 L546.9,156.3 L547.3,158.2 L547.6,157.0 L547.9,156.4 L548.3,156.5 L548.6,157.1 L548.9,158.3 L549.3,158.0 L549.6,156.6 L549.9,157.5 L550.2,157.4 L550.6,156.2 L550.9,156.6 L551.2,155.7 L551.6,156.6 L551.9,155.4 L552.2,156.7 L552.6,156.7 L552.9,156.7 L553.2,156.8 L553.5,158.3 L553.9,157.3 L554.2,157.7 L554.5,158.1 L554.9,158.1 L555.2,157.9 L555.5,157.1 L555.9,156.5 L556.2,157.2 L556.5,156.7 L556.8,156.8 L557.2,156.8 L557.5,157.5 L557.8,156.6 L558.2,157.8 L558.5,157.2 L558.8,156.0 L559.2,157.0 L559.5,154.4 L559.8,157.4 L560.1,156.7 L560.5,156.7 L560.8,155.4 L561.1,158.4 L561.5,156.5 L561.8,156.5 L562.1,157.4 L562.5,156.5 L562.8,156.1 L563.1,157.1 L563.4,155.9 L563.8,157.1 L564.1,156.7 L564.4,157.4 L564.8,155.9 L565.1,157.6 L565.4,157.0 L565.8,158.2 L566.1,156.4 L566.4,158.2 L566.7,157.5 L567.1,157.6 L567.4,156.6 L567.7,157.4 L568.1,157.4 L568.4,156.3 L568.7,156.0 L569.1,155.8 L569.4,157.6 L569.7,156.5 L570.0,157.0 L570.4,156.4 L570.7,156.1 L571.0,156.3 L571.4,155.9 L571.7,157.0 L572.0,156.4 L572.4,156.5 L572.7,155.3 L573.0,156.6 L573.3,156.0 L573.7,156.3 L574.0,157.3 L574.3,155.8 L574.7,156.4 L575.0,157.0 L575.3,157.3 L575.7,156.2 L576.0,156.7 L576.3,156.7 L576.6,155.6 L577.0,154.9 L577.3,155.0 L577.6,156.9 L578.0,156.6 L578.3,155.5 L578.6,156.0 L579.0,156.2 L579.3,156.3 L579.6,156.5 L579.9,158.0 L580.3,155.9 L580.6,156.6 L580.9,155.9 L581.3,156.1 L581.6,155.8 L581.9,156.3 L582.3,156.1 L582.6,156.7 L582.9,156.6 L583.2,155.8 L583.6,157.8 L583.9,155.7 L584.2,156.6 L584.6,157.9 L584.9,155.9 L585.2,157.1 L585.6,157.2 L585.9,156.4 L586.2,154.8 L586.5,156.9 L586.9,156.0 L587.2,155.7 L587.5,157.1 L587.9,155.7 L588.2,157.1 L588.5,155.8 L588.9,156.7 L589.2,155.5 L589.5,157.5 L589.8,155.7 L590.2,155.8 L590.5,156.4 L590.8,156.1 L591.2,156.4 L591.5,157.3 L591.8,156.4 L592.2,155.3 L592.5,156.5 L592.8,156.8 L593.1,157.7 L593.5,157.6 L593.8,157.6 L594.1,156.7 L594.5,157.3 L594.8,155.7 L595.1,157.6 L595.5,157.0 L595.8,157.1 L596.1,156.3 L596.4,156.8 L596.8,156.2 L597.1,156.9 L597.4,155.6 L597.8,157.2 L598.1,157.1 L598.4,157.4 L598.8,156.6 L599.1,156.6 L599.4,156.9 L599.7,156.9 L600.1,156.9 L600.4,156.2 L600.7,156.2 L601.1,156.3 L601.4,156.5 L601.7,155.9 L602.1,155.9 L602.4,156.3 L602.7,157.0 L603.0,156.3 L603.4,156.9 L603.7,157.2 L604.0,157.1 L604.4,156.3 L604.7,156.1 L605.0,155.1 L605.4,156.0 L605.7,156.7 L606.0,155.6 L606.3,157.4 L606.7,157.5 L607.0,156.2 L607.3,157.0 L607.7,155.4 L608.0,155.7 L608.3,156.1 L608.7,156.6 L609.0,156.4 L609.3,155.9 L609.6,157.8 L610.0,156.5 L610.3,156.5 L610.6,156.7 L611.0,156.3 L611.3,156.1 L611.6,155.8 L612.0,155.1 L612.3,157.3 L612.6,155.6 L612.9,155.1 L613.3,155.7 L613.6,155.2 L613.9,157.7 L614.3,156.4 L614.6,157.2 L614.9,157.2 L615.3,156.5 L615.6,156.6 L615.9,155.6 L616.2,156.2 L616.6,155.9 L616.9,156.3 L617.2,156.0 L617.6,157.4 L617.9,157.1 L618.2,156.7 L618.6,155.8 L618.9,157.7 L619.2,157.9 L619.5,157.3 L619.9,156.7 L620.2,158.0 L620.5,158.4 L620.9,156.3 L621.2,158.1 L621.5,156.5 L621.9,157.9 L622.2,159.1 L622.5,158.1 L622.8,158.3 L623.2,157.8 L623.5,157.4 L623.8,159.9 L624.2,159.2 L624.5,158.1 L624.8,158.1 L625.2,158.4 L625.5,160.0 L625.8,158.6 L626.1,159.3 L626.5,158.4 L626.8,157.8 L627.1,159.7 L627.5,158.5 L627.8,158.0 L628.1,158.1 L628.5,158.1 L628.8,157.3 L629.1,157.4 L629.4,159.3 L629.8,158.9 L630.1,159.1 L630.4,158.3 L630.8,158.8 L631.1,158.5 L631.4,159.2 L631.8,159.0 L632.1,158.7 L632.4,157.9 L632.7,157.4 L633.1,157.9 L633.4,158.0 L633.7,158.0 L634.1,157.8 L634.4,159.9 L634.7,158.9 L635.1,157.2 L635.4,157.9 L635.7,157.7 L636.0,159.0 L636.4,159.6 L636.7,158.2 L637.0,159.4 L637.4,158.8 L637.7,159.9 L638.0,160.0 L638.4,159.4 L638.7,159.8 L639.0,159.4 L639.3,159.1 L639.7,158.7 L640.0,159.8 L640.3,159.4 L640.7,159.3 L641.0,159.8 L641.3,159.6 L641.7,159.3 L642.0,159.4 L642.3,160.3 L642.6,162.3 L643.0,161.8 L643.3,159.0 L643.6,162.5 L644.0,159.6 L644.3,161.4 L644.6,160.4 L645.0,160.4 L645.3,161.3 L645.6,162.6 L645.9,158.9 L646.3,161.1 L646.6,161.0 L646.9,162.1 L647.3,162.3 L647.6,163.8" stroke="#D95319" stroke-width="1.05" fill="none" stroke-linejoin="round" clip-path="url(#cr)"/>
<path d="M388.2,198.9 L388.5,211.0 L388.9,219.2 L389.2,219.6 L389.5,216.2 L389.8,210.8 L390.2,213.6 L390.5,208.9 L390.8,212.1 L391.2,211.4 L391.5,208.6 L391.8,212.1 L392.2,211.7 L392.5,209.4 L392.8,215.2 L393.1,211.8 L393.5,209.9 L393.8,209.6 L394.1,209.6 L394.5,211.3 L394.8,210.9 L395.1,208.5 L395.5,209.3 L395.8,209.7 L396.1,210.6 L396.4,210.3 L396.8,209.9 L397.1,211.8 L397.4,212.3 L397.8,210.3 L398.1,205.8 L398.4,209.1 L398.8,210.4 L399.1,209.1 L399.4,209.8 L399.7,209.3 L400.1,206.3 L400.4,204.3 L400.7,210.4 L401.1,208.1 L401.4,210.4 L401.7,209.4 L402.1,209.6 L402.4,212.8 L402.7,208.0 L403.0,212.6 L403.4,208.7 L403.7,211.2 L404.0,211.8 L404.4,211.6 L404.7,210.6 L405.0,207.7 L405.4,210.9 L405.7,211.7 L406.0,211.9 L406.3,213.8 L406.7,210.8 L407.0,207.8 L407.3,209.2 L407.7,210.3 L408.0,212.3 L408.3,207.8 L408.7,212.1 L409.0,211.7 L409.3,209.0 L409.6,211.8 L410.0,209.6 L410.3,211.0 L410.6,210.5 L411.0,211.3 L411.3,208.5 L411.6,211.1 L412.0,205.9 L412.3,208.9 L412.6,208.8 L412.9,213.0 L413.3,210.8 L413.6,208.9 L413.9,208.2 L414.3,206.8 L414.6,209.2 L414.9,214.5 L415.3,211.9 L415.6,210.7 L415.9,206.0 L416.2,212.9 L416.6,209.2 L416.9,214.2 L417.2,210.0 L417.6,213.3 L417.9,207.6 L418.2,213.5 L418.6,211.2 L418.9,205.1 L419.2,209.3 L419.5,208.0 L419.9,212.7 L420.2,212.0 L420.5,211.1 L420.9,211.9 L421.2,211.5 L421.5,209.8 L421.9,214.7 L422.2,211.4 L422.5,210.2 L422.8,207.5 L423.2,209.0 L423.5,210.1 L423.8,209.7 L424.2,209.0 L424.5,209.8 L424.8,207.7 L425.2,209.9 L425.5,207.1 L425.8,208.6 L426.1,208.9 L426.5,212.0 L426.8,211.3 L427.1,210.8 L427.5,208.7 L427.8,210.1 L428.1,212.4 L428.5,213.0 L428.8,207.6 L429.1,212.8 L429.4,210.4 L429.8,210.6 L430.1,209.5 L430.4,210.9 L430.8,207.2 L431.1,212.8 L431.4,207.6 L431.8,209.8 L432.1,210.6 L432.4,211.7 L432.7,211.3 L433.1,211.2 L433.4,211.9 L433.7,209.0 L434.1,210.7 L434.4,212.7 L434.7,208.6 L435.1,207.7 L435.4,209.0 L435.7,213.8 L436.0,213.6 L436.4,210.5 L436.7,211.5 L437.0,211.8 L437.4,213.0 L437.7,207.5 L438.0,209.8 L438.4,210.1 L438.7,210.8 L439.0,210.6 L439.3,209.8 L439.7,211.0 L440.0,206.0 L440.3,216.4 L440.7,211.8 L441.0,213.2 L441.3,210.4 L441.7,211.7 L442.0,214.7 L442.3,214.4 L442.6,211.2 L443.0,208.6 L443.3,211.1 L443.6,210.6 L444.0,212.6 L444.3,208.9 L444.6,210.7 L445.0,211.6 L445.3,210.0 L445.6,212.9 L445.9,208.5 L446.3,208.5 L446.6,209.6 L446.9,211.7 L447.3,209.2 L447.6,208.6 L447.9,210.6 L448.3,212.7 L448.6,205.7 L448.9,206.0 L449.2,207.0 L449.6,204.9 L449.9,203.4 L450.2,201.5 L450.6,202.8 L450.9,205.2 L451.2,209.2 L451.6,211.9 L451.9,212.2 L452.2,215.4 L452.5,217.2 L452.9,218.1 L453.2,215.3 L453.5,216.8 L453.9,210.6 L454.2,209.3 L454.5,204.9 L454.9,201.4 L455.2,202.3 L455.5,201.3 L455.8,200.0 L456.2,198.6 L456.5,197.1 L456.8,199.1 L457.2,206.1 L457.5,213.4 L457.8,217.0 L458.2,205.2 L458.5,206.8 L458.8,202.6 L459.1,201.8 L459.5,201.9 L459.8,205.6 L460.1,207.1 L460.5,211.1 L460.8,214.5 L461.1,212.4 L461.5,213.3 L461.8,215.7 L462.1,213.7 L462.4,217.0 L462.8,214.1 L463.1,217.0 L463.4,214.7 L463.8,210.2 L464.1,205.8 L464.4,203.3 L464.8,196.4 L465.1,197.3 L465.4,197.2 L465.7,199.5 L466.1,196.2 L466.4,197.6 L466.7,201.3 L467.1,203.2 L467.4,199.6 L467.7,203.7 L468.1,205.3 L468.4,205.3 L468.7,203.7 L469.0,205.6 L469.4,210.2 L469.7,215.6 L470.0,212.6 L470.4,218.3 L470.7,222.2 L471.0,219.3 L471.4,224.3 L471.7,232.0 L472.0,234.7 L472.3,238.1 L472.7,241.3 L473.0,246.6 L473.3,248.5 L473.7,257.4 L474.0,252.8 L474.3,252.0 L474.7,254.2 L475.0,252.9 L475.3,244.0 L475.6,239.3 L476.0,232.0 L476.3,228.6 L476.6,222.8 L477.0,220.6 L477.3,218.6 L477.6,219.0 L478.0,222.4 L478.3,218.3 L478.6,218.8 L478.9,224.6 L479.3,223.0 L479.6,228.2 L479.9,237.5 L480.3,240.0 L480.6,247.7 L480.9,251.7 L481.3,246.5 L481.6,244.5 L481.9,243.9 L482.2,232.9 L482.6,228.4 L482.9,225.8 L483.2,221.5 L483.6,218.1 L483.9,220.6 L484.2,214.6 L484.6,214.5 L484.9,212.0 L485.2,212.5 L485.5,210.4 L485.9,215.9 L486.2,215.4 L486.5,221.0 L486.9,219.1 L487.2,223.7 L487.5,230.8 L487.9,235.7 L488.2,239.5 L488.5,244.2 L488.8,243.4 L489.2,241.7 L489.5,227.7 L489.8,221.3 L490.2,211.8 L490.5,201.5 L490.8,196.8 L491.2,195.4 L491.5,200.2 L491.8,202.6 L492.1,208.1 L492.5,212.0 L492.8,208.2 L493.1,216.3 L493.5,214.1 L493.8,212.8 L494.1,207.3 L494.5,209.6 L494.8,209.1 L495.1,208.1 L495.4,214.9 L495.8,220.1 L496.1,215.1 L496.4,210.5 L496.8,204.7 L497.1,207.3 L497.4,201.5 L497.8,204.5 L498.1,207.3 L498.4,208.4 L498.7,211.4 L499.1,213.2 L499.4,210.9 L499.7,213.8 L500.1,212.2 L500.4,215.5 L500.7,217.3 L501.1,215.6 L501.4,213.4 L501.7,216.8 L502.0,214.3 L502.4,216.6 L502.7,212.7 L503.0,208.6 L503.4,210.3 L503.7,212.6 L504.0,213.5 L504.4,211.9 L504.7,214.2 L505.0,210.4 L505.3,211.0 L505.7,214.5 L506.0,208.8 L506.3,212.9 L506.7,215.7 L507.0,215.2 L507.3,211.6 L507.7,213.6 L508.0,210.1 L508.3,213.5 L508.6,213.9 L509.0,209.7 L509.3,216.2 L509.6,216.8 L510.0,213.9 L510.3,214.7 L510.6,215.9 L511.0,212.4 L511.3,214.6 L511.6,214.4 L511.9,210.1 L512.3,211.5 L512.6,212.3 L512.9,215.4 L513.3,213.6 L513.6,214.7 L513.9,211.6 L514.3,210.2 L514.6,216.5 L514.9,217.9 L515.2,213.5 L515.6,212.1 L515.9,214.8 L516.2,210.8 L516.6,212.8 L516.9,216.3 L517.2,214.3 L517.6,213.8 L517.9,212.2 L518.2,211.4 L518.5,210.1 L518.9,211.2 L519.2,215.3 L519.5,211.7 L519.9,215.7 L520.2,213.1 L520.5,219.1 L520.9,208.1 L521.2,215.8 L521.5,215.2 L521.8,203.8 L522.2,206.8 L522.5,222.3 L522.8,214.6 L523.2,210.9 L523.5,212.8 L523.8,220.5 L524.2,213.2 L524.5,220.5 L524.8,211.6 L525.1,211.2 L525.5,213.1 L525.8,209.8 L526.1,212.4" stroke="#0072BD" stroke-width="1.05" fill="none" stroke-linejoin="round" clip-path="url(#cr)"/>
<path d="M545.8,211.3 L546.1,219.5 L546.5,220.6 L546.8,218.0 L547.1,211.9 L547.5,209.4 L547.8,212.6 L548.1,212.2 L548.4,210.7 L548.8,211.0 L549.1,215.4 L549.4,214.3 L549.8,212.4 L550.1,212.5 L550.4,214.4 L550.8,212.1 L551.1,211.7 L551.4,207.1 L551.7,206.9 L552.1,206.4 L552.4,205.9 L552.7,210.9 L553.1,212.0 L553.4,209.4 L553.7,212.5 L554.1,212.5 L554.4,211.5 L554.7,208.5 L555.0,215.1 L555.4,214.3 L555.7,209.8 L556.0,215.8 L556.4,210.7 L556.7,208.8 L557.0,209.8 L557.4,206.8 L557.7,210.1 L558.0,207.5 L558.3,214.2 L558.7,212.7 L559.0,208.8 L559.3,211.3 L559.7,208.6 L560.0,212.6 L560.3,212.9 L560.7,212.0 L561.0,209.4 L561.3,211.2 L561.6,210.7 L562.0,211.3 L562.3,214.3 L562.6,214.9 L563.0,214.8 L563.3,210.3 L563.6,210.1 L564.0,207.0 L564.3,212.8 L564.6,207.5 L564.9,210.4 L565.3,216.0 L565.6,208.8 L565.9,209.7 L566.3,208.4 L566.6,212.3 L566.9,211.2 L567.3,210.5 L567.6,208.0 L567.9,213.0 L568.2,211.2 L568.6,210.1 L568.9,211.6 L569.2,213.4 L569.6,208.2 L569.9,207.9 L570.2,209.1 L570.6,209.3 L570.9,204.6 L571.2,210.3 L571.5,214.2 L571.9,210.8 L572.2,213.5 L572.5,204.5 L572.9,210.8 L573.2,214.2 L573.5,214.3 L573.9,209.5 L574.2,208.7 L574.5,211.3 L574.8,208.1 L575.2,210.0 L575.5,207.2 L575.8,211.2 L576.2,210.7 L576.5,214.4 L576.8,211.7 L577.2,209.4 L577.5,210.8 L577.8,208.1 L578.1,211.1 L578.5,210.8 L578.8,211.7 L579.1,212.6 L579.5,206.5 L579.8,211.3 L580.1,212.7 L580.5,208.5 L580.8,215.4 L581.1,209.7 L581.4,216.8 L581.8,213.6 L582.1,214.5 L582.4,212.9 L582.8,214.5 L583.1,209.7 L583.4,208.8 L583.8,204.2 L584.1,207.4 L584.4,203.1 L584.7,205.6 L585.1,206.7 L585.4,205.3 L585.7,212.6 L586.1,212.9 L586.4,213.2 L586.7,213.8 L587.1,212.6 L587.4,212.4 L587.7,214.6 L588.0,209.9 L588.4,209.2 L588.7,210.2 L589.0,214.1 L589.4,210.8 L589.7,216.0 L590.0,205.9 L590.4,213.1 L590.7,216.7 L591.0,219.8 L591.3,220.5 L591.7,213.7 L592.0,210.1 L592.3,214.6 L592.7,215.8 L593.0,206.4 L593.3,213.2 L593.7,212.6 L594.0,210.0 L594.3,210.6 L594.6,212.3 L595.0,211.7 L595.3,210.4 L595.6,208.4 L596.0,211.8 L596.3,209.8 L596.6,209.4 L597.0,210.2 L597.3,212.0 L597.6,213.1 L597.9,212.0 L598.3,213.4 L598.6,209.4 L598.9,212.5 L599.3,212.7 L599.6,210.8 L599.9,211.2 L600.3,205.3 L600.6,211.5 L600.9,210.5 L601.2,206.0 L601.6,211.8 L601.9,209.8 L602.2,211.9 L602.6,213.3 L602.9,212.4 L603.2,212.0 L603.6,211.7 L603.9,213.7 L604.2,214.8 L604.5,205.4 L604.9,212.6 L605.2,211.2 L605.5,210.0 L605.9,215.6 L606.2,214.0 L606.5,210.2 L606.9,209.7 L607.2,213.6 L607.5,210.5 L607.8,211.5 L608.2,208.1 L608.5,211.7 L608.8,213.9 L609.2,210.4 L609.5,211.0 L609.8,215.3 L610.2,213.9 L610.5,215.4 L610.8,214.7 L611.1,214.3 L611.5,208.8 L611.8,211.2 L612.1,209.2 L612.5,218.1 L612.8,213.7 L613.1,213.0 L613.5,211.6 L613.8,211.6 L614.1,207.7 L614.4,218.8 L614.8,213.5 L615.1,214.1 L615.4,210.7 L615.8,213.5 L616.1,214.5 L616.4,213.6 L616.8,214.9 L617.1,211.7 L617.4,214.0 L617.7,215.3 L618.1,214.6 L618.4,214.8 L618.7,214.2 L619.1,212.5 L619.4,215.9 L619.7,217.5 L620.1,221.4 L620.4,219.0 L620.7,214.1 L621.0,213.5 L621.4,215.9 L621.7,215.8 L622.0,212.9 L622.4,213.6 L622.7,214.7 L623.0,213.4 L623.4,212.4 L623.7,214.5 L624.0,214.0 L624.3,213.9 L624.7,216.1 L625.0,219.4 L625.3,213.1 L625.7,214.4 L626.0,218.4 L626.3,212.3 L626.7,212.7 L627.0,212.4 L627.3,215.1 L627.6,211.6 L628.0,215.1 L628.3,215.6 L628.6,212.9 L629.0,211.9 L629.3,210.7 L629.6,213.7 L630.0,211.2 L630.3,212.3 L630.6,212.6 L630.9,212.2 L631.3,215.7 L631.6,217.0 L631.9,208.7 L632.3,211.2 L632.6,213.8 L632.9,211.2 L633.3,212.0 L633.6,213.7 L633.9,216.1 L634.2,215.4 L634.6,212.8 L634.9,214.0 L635.2,213.2 L635.6,213.7 L635.9,211.5 L636.2,210.4 L636.6,213.5 L636.9,216.4 L637.2,216.1 L637.5,210.4 L637.9,214.1 L638.2,212.9 L638.5,214.7 L638.9,211.5 L639.2,207.4 L639.5,213.9 L639.9,215.8 L640.2,216.1 L640.5,209.8 L640.8,213.5 L641.2,217.2 L641.5,214.4 L641.8,216.4 L642.2,215.0 L642.5,212.8 L642.8,214.6 L643.2,216.3 L643.5,216.6 L643.8,216.0 L644.1,211.6 L644.5,215.4 L644.8,210.9 L645.1,213.7 L645.5,213.6 L645.8,215.5 L646.1,215.3 L646.5,217.4 L646.8,213.3 L647.1,216.6 L647.4,215.5 L647.8,214.1 L648.1,211.4 L648.4,215.4 L648.8,214.9 L649.1,215.5 L649.4,213.6 L649.8,213.2 L650.1,214.5 L650.4,214.7 L650.7,215.7 L651.1,218.4 L651.4,212.8 L651.7,218.8 L652.1,208.2 L652.4,217.1 L652.7,213.0 L653.1,218.9 L653.4,212.9 L653.7,217.1 L654.0,212.8 L654.4,212.7 L654.7,216.8 L655.0,217.0 L655.4,213.5 L655.7,220.3 L656.0,214.6 L656.4,218.6 L656.7,213.1 L657.0,213.1 L657.3,215.1 L657.7,212.7 L658.0,216.2 L658.3,210.2 L658.7,215.3 L659.0,213.8 L659.3,213.2 L659.7,216.1 L660.0,215.2 L660.3,214.8 L660.6,217.3 L661.0,215.7 L661.3,216.1 L661.6,218.3 L662.0,217.1 L662.3,217.2 L662.6,210.6 L663.0,216.0 L663.3,215.9 L663.6,213.5 L663.9,211.4 L664.3,211.9 L664.6,212.6 L664.9,216.2 L665.3,214.3 L665.6,214.6 L665.9,216.3 L666.3,216.7 L666.6,217.9 L666.9,213.7 L667.2,216.3 L667.6,216.7 L667.9,216.8 L668.2,214.8 L668.6,211.6 L668.9,212.8 L669.2,208.5 L669.6,210.5 L669.9,214.5 L670.2,213.5 L670.5,217.5 L670.9,212.1 L671.2,215.1 L671.5,212.7 L671.9,214.0 L672.2,217.1 L672.5,220.9 L672.9,217.2 L673.2,219.6 L673.5,222.1 L673.8,214.8 L674.2,209.4 L674.5,216.2 L674.8,213.6 L675.2,219.4 L675.5,216.5 L675.8,210.3 L676.2,214.6 L676.5,217.6 L676.8,214.3 L677.1,217.9 L677.5,211.4 L677.8,214.1 L678.1,209.6 L678.5,220.0 L678.8,209.6 L679.1,215.2 L679.5,224.3 L679.8,212.6 L680.1,208.4 L680.4,214.0 L680.8,218.0 L681.1,212.8 L681.4,217.0 L681.8,214.1 L682.1,218.7 L682.4,216.0 L682.8,215.8 L683.1,218.3 L683.4,213.0 L683.7,214.3 L684.1,212.8 L684.4,212.9" stroke="#0072BD" stroke-width="1.05" fill="none" stroke-linejoin="round" clip-path="url(#cr)"/>
<rect x="44.7" y="22.5" width="296.5" height="233.7" fill="none" stroke="#000" stroke-width="1.1"/>
<path d="M57.9,256.2V252.7M57.9,22.5V26.0M94.87,256.2V252.7M94.87,22.5V26.0M131.84,256.2V252.7M131.84,22.5V26.0M168.81,256.2V252.7M168.81,22.5V26.0M205.78,256.2V252.7M205.78,22.5V26.0M242.75,256.2V252.7M242.75,22.5V26.0M279.71999999999997,256.2V252.7M279.71999999999997,22.5V26.0M316.68999999999994,256.2V252.7M316.68999999999994,22.5V26.0M44.7,22.5H48.2M341.2,22.5H337.7M44.7,44.78H48.2M341.2,44.78H337.7M44.7,67.06H48.2M341.2,67.06H337.7M44.7,89.34H48.2M341.2,89.34H337.7M44.7,111.62H48.2M341.2,111.62H337.7M44.7,133.9H48.2M341.2,133.9H337.7M44.7,156.18H48.2M341.2,156.18H337.7M44.7,178.46H48.2M341.2,178.46H337.7M44.7,200.74H48.2M341.2,200.74H337.7M44.7,223.02H48.2M341.2,223.02H337.7M44.7,245.3H48.2M341.2,245.3H337.7" stroke="#000" stroke-width="1.1" fill="none"/>
<text x="30.20" y="28.20" text-anchor="middle" class="t">2.6</text>
<text x="30.20" y="50.48" text-anchor="middle" class="t">2.4</text>
<text x="30.20" y="72.76" text-anchor="middle" class="t">2.2</text>
<text x="31.40" y="95.04" text-anchor="middle" class="t">2</text>
<text x="30.20" y="117.32" text-anchor="middle" class="t">1.8</text>
<text x="30.20" y="139.60" text-anchor="middle" class="t">1.6</text>
<text x="30.20" y="161.88" text-anchor="middle" class="t">1.4</text>
<text x="30.20" y="184.16" text-anchor="middle" class="t">1.2</text>
<text x="31.40" y="206.44" text-anchor="middle" class="t">1</text>
<text x="30.20" y="228.72" text-anchor="middle" class="t">0.8</text>
<text x="30.20" y="251.00" text-anchor="middle" class="t">0.6</text>
<text x="94.90" y="272.6" text-anchor="middle" class="t">23792</text>
<text x="168.83" y="272.6" text-anchor="middle" class="t">23793</text>
<text x="242.76" y="272.6" text-anchor="middle" class="t">23794</text>
<text x="316.69" y="272.6" text-anchor="middle" class="t">23795</text>
<rect x="388.2" y="22.9" width="295.7" height="233.9" fill="none" stroke="#000" stroke-width="1.1"/>
<path d="M401.3,256.8V253.3M401.3,22.9V26.4M438.35,256.8V253.3M438.35,22.9V26.4M475.4,256.8V253.3M475.4,22.9V26.4M512.45,256.8V253.3M512.45,22.9V26.4M549.5,256.8V253.3M549.5,22.9V26.4M586.55,256.8V253.3M586.55,22.9V26.4M623.6,256.8V253.3M623.6,22.9V26.4M660.65,256.8V253.3M660.65,22.9V26.4M388.2,34.0H391.7M683.9,34.0H680.4M388.2,56.269999999999996H391.7M683.9,56.269999999999996H680.4M388.2,78.53999999999999H391.7M683.9,78.53999999999999H680.4M388.2,100.81H391.7M683.9,100.81H680.4M388.2,123.08H391.7M683.9,123.08H680.4M388.2,145.35H391.7M683.9,145.35H680.4M388.2,167.62H391.7M683.9,167.62H680.4M388.2,189.89H391.7M683.9,189.89H680.4M388.2,212.16H391.7M683.9,212.16H680.4M388.2,234.43H391.7M683.9,234.43H680.4M388.2,256.7H391.7M683.9,256.7H680.4" stroke="#000" stroke-width="1.1" fill="none"/>
<text x="373.70" y="39.70" text-anchor="middle" class="t">2.6</text>
<text x="373.70" y="61.97" text-anchor="middle" class="t">2.4</text>
<text x="373.70" y="84.24" text-anchor="middle" class="t">2.2</text>
<text x="374.90" y="106.51" text-anchor="middle" class="t">2</text>
<text x="373.70" y="128.78" text-anchor="middle" class="t">1.8</text>
<text x="373.70" y="151.05" text-anchor="middle" class="t">1.6</text>
<text x="373.70" y="173.32" text-anchor="middle" class="t">1.4</text>
<text x="373.70" y="195.59" text-anchor="middle" class="t">1.2</text>
<text x="374.90" y="217.86" text-anchor="middle" class="t">1</text>
<text x="373.70" y="240.13" text-anchor="middle" class="t">0.8</text>
<text x="373.70" y="262.40" text-anchor="middle" class="t">0.6</text>
<text x="438.35" y="272.6" text-anchor="middle" class="t">23792</text>
<text x="512.45" y="272.6" text-anchor="middle" class="t">23793</text>
<text x="586.55" y="272.6" text-anchor="middle" class="t">23794</text>
<text x="660.65" y="272.6" text-anchor="middle" class="t">23795</text>
<text x="1.2" y="14.0" style="font-size:19px">(a)</text>
<text x="360.0" y="14.0" style="font-size:19px">(b)</text>
<text x="184.5" y="14.1" text-anchor="middle" class="b">Time domain</text>
<text x="536.5" y="14.4" text-anchor="middle" class="b" style="font-size:16.3px">Frequency domain</text>
<text transform="translate(13.2,135) rotate(-90)" text-anchor="middle" style="font-size:16.6px">Transmission</text>
<text x="134.5" y="290.5" style="font-size:16.5px">Wavenumber [cm<tspan dy="-6" font-size="10">-1</tspan><tspan dy="6">]</tspan></text>
<text x="484.5" y="290.5" style="font-size:16.5px">Wavenumber [cm<tspan dy="-6" font-size="10">-1</tspan><tspan dy="6">]</tspan></text>
<path d="M190.3,57H212.1" stroke="#7E2F8E" stroke-width="1.8"/>
<path d="M190.3,72.2H212.1" stroke="#EDB120" stroke-width="1.8"/>
<path d="M202.8,166.5H224.3" stroke="#D7262B" stroke-width="1.8"/>
<path d="M202.8,181.7H224.3" stroke="#1A72B8" stroke-width="1.8"/>
<text x="217.6" y="61.4" class="lg">Set 1 - Second order</text>
<text x="217.6" y="76.6" class="lg">Set 1 - Third order</text>
<text x="229.6" y="170.9" class="lg">Set 2 - Third order</text>
<text x="229.6" y="186.1" class="lg">Set 2 - Fourth order</text>
</svg>
</body></html>
